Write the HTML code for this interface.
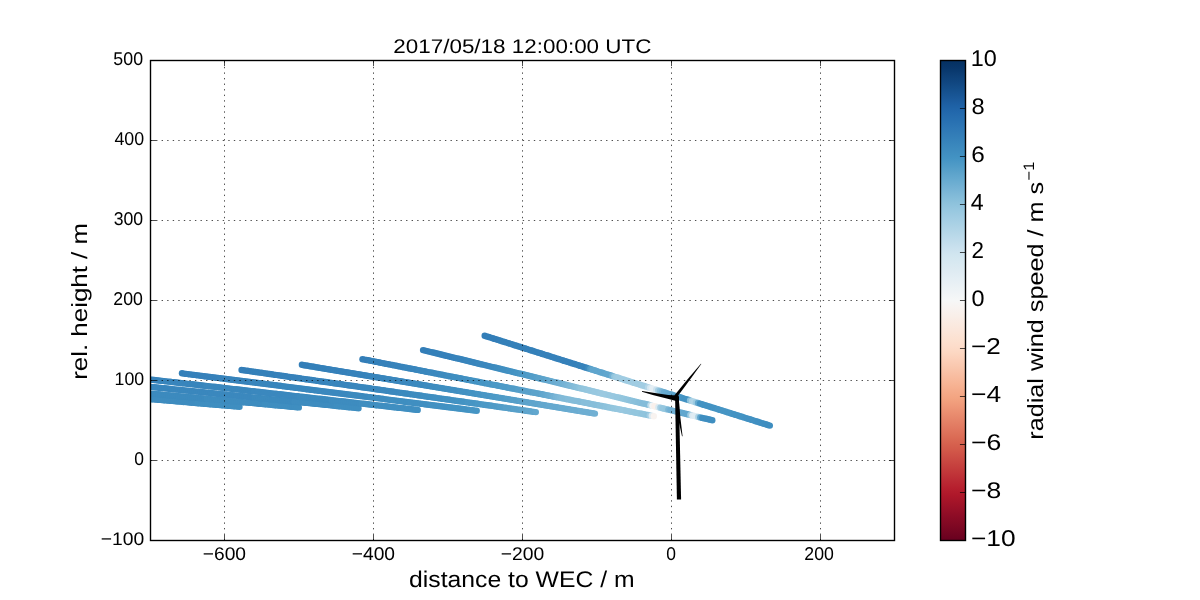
<!DOCTYPE html>
<html><head><meta charset="utf-8"><title>2017/05/18 12:00:00 UTC</title>
<style>html,body{margin:0;padding:0;background:#fff;width:1200px;height:600px;overflow:hidden}svg{display:block;will-change:transform}text{font-family:"Liberation Sans",sans-serif;fill:#000;text-rendering:geometricPrecision}</style></head><body>
<svg width="1200" height="600" viewBox="0 0 1200 600">
<defs><clipPath id="ax"><rect x="150.5" y="60.5" width="744" height="480"/></clipPath>
<linearGradient id="cbg" x1="0" y1="1" x2="0" y2="0"><stop offset="0.0000" stop-color="#67001f"/><stop offset="0.0156" stop-color="#730421"/><stop offset="0.0312" stop-color="#7f0823"/><stop offset="0.0469" stop-color="#8a0b25"/><stop offset="0.0625" stop-color="#960f27"/><stop offset="0.0781" stop-color="#a21328"/><stop offset="0.0938" stop-color="#ae172a"/><stop offset="0.1094" stop-color="#b61f2e"/><stop offset="0.1250" stop-color="#bb2a34"/><stop offset="0.1406" stop-color="#c13639"/><stop offset="0.1562" stop-color="#c6413e"/><stop offset="0.1719" stop-color="#cc4c44"/><stop offset="0.1875" stop-color="#d25849"/><stop offset="0.2031" stop-color="#d7634f"/><stop offset="0.2188" stop-color="#dc6e57"/><stop offset="0.2344" stop-color="#e17860"/><stop offset="0.2500" stop-color="#e58368"/><stop offset="0.2656" stop-color="#ea8e70"/><stop offset="0.2812" stop-color="#ef9979"/><stop offset="0.2969" stop-color="#f3a481"/><stop offset="0.3125" stop-color="#f5ac8b"/><stop offset="0.3281" stop-color="#f7b596"/><stop offset="0.3438" stop-color="#f8bda1"/><stop offset="0.3594" stop-color="#f9c6ac"/><stop offset="0.3750" stop-color="#fbceb7"/><stop offset="0.3906" stop-color="#fcd7c2"/><stop offset="0.4062" stop-color="#fdddcb"/><stop offset="0.4219" stop-color="#fce2d2"/><stop offset="0.4375" stop-color="#fbe6da"/><stop offset="0.4531" stop-color="#faeae1"/><stop offset="0.4688" stop-color="#f9efe9"/><stop offset="0.4844" stop-color="#f8f3f0"/><stop offset="0.5000" stop-color="#f6f7f7"/><stop offset="0.5156" stop-color="#f0f4f6"/><stop offset="0.5312" stop-color="#eaf1f5"/><stop offset="0.5469" stop-color="#e4eef4"/><stop offset="0.5625" stop-color="#deebf2"/><stop offset="0.5781" stop-color="#d8e9f1"/><stop offset="0.5938" stop-color="#d2e6f0"/><stop offset="0.6094" stop-color="#cae1ee"/><stop offset="0.6250" stop-color="#c0dceb"/><stop offset="0.6406" stop-color="#b6d7e8"/><stop offset="0.6562" stop-color="#acd2e5"/><stop offset="0.6719" stop-color="#a2cde3"/><stop offset="0.6875" stop-color="#98c8e0"/><stop offset="0.7031" stop-color="#8dc2dc"/><stop offset="0.7188" stop-color="#81bad8"/><stop offset="0.7344" stop-color="#75b2d4"/><stop offset="0.7500" stop-color="#68abd0"/><stop offset="0.7656" stop-color="#5ca3cb"/><stop offset="0.7812" stop-color="#4f9bc7"/><stop offset="0.7969" stop-color="#4393c3"/><stop offset="0.8125" stop-color="#3e8cbf"/><stop offset="0.8281" stop-color="#3885bc"/><stop offset="0.8438" stop-color="#337eb8"/><stop offset="0.8594" stop-color="#2e77b5"/><stop offset="0.8750" stop-color="#2870b1"/><stop offset="0.8906" stop-color="#2369ad"/><stop offset="0.9062" stop-color="#1e61a5"/><stop offset="0.9219" stop-color="#1a5899"/><stop offset="0.9375" stop-color="#15508d"/><stop offset="0.9531" stop-color="#114781"/><stop offset="0.9688" stop-color="#0d3f76"/><stop offset="0.9844" stop-color="#08366a"/><stop offset="1.0000" stop-color="#053061"/></linearGradient>
</defs>
<rect x="0" y="0" width="1200" height="600" fill="#fff"/>
<g clip-path="url(#ax)"><circle cx="141.7" cy="398.4" r="3.20" fill="#3e8cbf"/><circle cx="143.7" cy="398.5" r="3.20" fill="#3e8cbf"/><circle cx="145.7" cy="398.7" r="3.20" fill="#3e8cbf"/><circle cx="147.7" cy="398.9" r="3.20" fill="#3e8cbf"/><circle cx="149.7" cy="399.1" r="3.20" fill="#3e8cbf"/><circle cx="151.6" cy="399.2" r="3.20" fill="#3e8cbf"/><circle cx="153.6" cy="399.4" r="3.20" fill="#3e8cbf"/><circle cx="155.6" cy="399.6" r="3.20" fill="#3e8cbf"/><circle cx="157.6" cy="399.7" r="3.20" fill="#3e8cbf"/><circle cx="159.6" cy="399.9" r="3.20" fill="#3e8cbf"/><circle cx="161.6" cy="400.1" r="3.20" fill="#3e8cbf"/><circle cx="163.6" cy="400.3" r="3.20" fill="#3e8cbf"/><circle cx="165.6" cy="400.4" r="3.20" fill="#3e8cbf"/><circle cx="167.6" cy="400.6" r="3.20" fill="#3e8cbf"/><circle cx="169.6" cy="400.8" r="3.20" fill="#3e8cbf"/><circle cx="171.6" cy="400.9" r="3.20" fill="#3e8cbf"/><circle cx="173.6" cy="401.1" r="3.20" fill="#3e8cbf"/><circle cx="175.6" cy="401.3" r="3.20" fill="#3e8cbf"/><circle cx="177.6" cy="401.5" r="3.20" fill="#3e8cbf"/><circle cx="179.6" cy="401.6" r="3.20" fill="#3e8cbf"/><circle cx="181.6" cy="401.8" r="3.20" fill="#3e8cbf"/><circle cx="183.6" cy="402.0" r="3.20" fill="#3e8cbf"/><circle cx="185.6" cy="402.1" r="3.20" fill="#3e8cbf"/><circle cx="187.6" cy="402.3" r="3.20" fill="#3e8cbf"/><circle cx="189.6" cy="402.5" r="3.20" fill="#3e8cbf"/><circle cx="191.6" cy="402.7" r="3.20" fill="#3e8cbf"/><circle cx="193.6" cy="402.8" r="3.20" fill="#3e8cbf"/><circle cx="195.6" cy="403.0" r="3.20" fill="#3e8cbf"/><circle cx="197.6" cy="403.2" r="3.20" fill="#3f8ec0"/><circle cx="199.6" cy="403.4" r="3.20" fill="#3f8ec0"/><circle cx="201.6" cy="403.5" r="3.20" fill="#3f8ec0"/><circle cx="203.6" cy="403.7" r="3.20" fill="#3f8ec0"/><circle cx="205.6" cy="403.9" r="3.20" fill="#3f8ec0"/><circle cx="207.6" cy="404.0" r="3.20" fill="#3f8ec0"/><circle cx="209.6" cy="404.2" r="3.20" fill="#3f8ec0"/><circle cx="211.5" cy="404.4" r="3.20" fill="#3f8ec0"/><circle cx="213.5" cy="404.6" r="3.20" fill="#3f8ec0"/><circle cx="215.5" cy="404.7" r="3.20" fill="#3f8ec0"/><circle cx="217.5" cy="404.9" r="3.20" fill="#3f8ec0"/><circle cx="219.5" cy="405.1" r="3.20" fill="#3f8ec0"/><circle cx="221.5" cy="405.2" r="3.20" fill="#3f8ec0"/><circle cx="223.5" cy="405.4" r="3.20" fill="#3f8ec0"/><circle cx="225.5" cy="405.6" r="3.20" fill="#3f8ec0"/><circle cx="227.5" cy="405.8" r="3.20" fill="#3f8ec0"/><circle cx="229.5" cy="405.9" r="3.20" fill="#3f8ec0"/><circle cx="231.5" cy="406.1" r="3.20" fill="#3f8ec0"/><circle cx="233.5" cy="406.3" r="3.20" fill="#3f8ec0"/><circle cx="235.5" cy="406.4" r="3.20" fill="#3f8ec0"/><circle cx="237.5" cy="406.6" r="3.20" fill="#3f8ec0"/><circle cx="239.5" cy="406.8" r="3.20" fill="#3f8ec0"/><circle cx="140.9" cy="392.6" r="3.20" fill="#3b88be"/><circle cx="142.9" cy="392.8" r="3.20" fill="#3b88be"/><circle cx="144.9" cy="393.0" r="3.20" fill="#3c8abe"/><circle cx="146.9" cy="393.2" r="3.20" fill="#3c8abe"/><circle cx="148.9" cy="393.4" r="3.20" fill="#3c8abe"/><circle cx="150.9" cy="393.6" r="3.20" fill="#3c8abe"/><circle cx="152.9" cy="393.8" r="3.20" fill="#3c8abe"/><circle cx="154.9" cy="393.9" r="3.20" fill="#3c8abe"/><circle cx="156.9" cy="394.1" r="3.20" fill="#3c8abe"/><circle cx="158.9" cy="394.3" r="3.20" fill="#3c8abe"/><circle cx="160.9" cy="394.5" r="3.20" fill="#3c8abe"/><circle cx="162.9" cy="394.7" r="3.20" fill="#3c8abe"/><circle cx="164.9" cy="394.9" r="3.20" fill="#3c8abe"/><circle cx="166.9" cy="395.1" r="3.20" fill="#3c8abe"/><circle cx="168.9" cy="395.3" r="3.20" fill="#3c8abe"/><circle cx="170.9" cy="395.4" r="3.20" fill="#3c8abe"/><circle cx="172.9" cy="395.6" r="3.20" fill="#3c8abe"/><circle cx="174.9" cy="395.8" r="3.20" fill="#3c8abe"/><circle cx="176.9" cy="396.0" r="3.20" fill="#3c8abe"/><circle cx="178.9" cy="396.2" r="3.20" fill="#3c8abe"/><circle cx="180.9" cy="396.4" r="3.20" fill="#3c8abe"/><circle cx="182.9" cy="396.6" r="3.20" fill="#3c8abe"/><circle cx="184.9" cy="396.8" r="3.20" fill="#3c8abe"/><circle cx="186.9" cy="396.9" r="3.20" fill="#3c8abe"/><circle cx="188.9" cy="397.1" r="3.20" fill="#3c8abe"/><circle cx="190.9" cy="397.3" r="3.20" fill="#3c8abe"/><circle cx="192.9" cy="397.5" r="3.20" fill="#3c8abe"/><circle cx="194.9" cy="397.7" r="3.20" fill="#3c8abe"/><circle cx="196.9" cy="397.9" r="3.20" fill="#3c8abe"/><circle cx="198.9" cy="398.1" r="3.20" fill="#3c8abe"/><circle cx="200.9" cy="398.3" r="3.20" fill="#3c8abe"/><circle cx="202.9" cy="398.4" r="3.20" fill="#3c8abe"/><circle cx="204.9" cy="398.6" r="3.20" fill="#3c8abe"/><circle cx="206.9" cy="398.8" r="3.20" fill="#3e8cbf"/><circle cx="208.9" cy="399.0" r="3.20" fill="#3e8cbf"/><circle cx="210.9" cy="399.2" r="3.20" fill="#3e8cbf"/><circle cx="212.9" cy="399.4" r="3.20" fill="#3e8cbf"/><circle cx="214.9" cy="399.6" r="3.20" fill="#3e8cbf"/><circle cx="216.9" cy="399.7" r="3.20" fill="#3e8cbf"/><circle cx="218.9" cy="399.9" r="3.20" fill="#3e8cbf"/><circle cx="220.9" cy="400.1" r="3.20" fill="#3e8cbf"/><circle cx="222.9" cy="400.3" r="3.20" fill="#3e8cbf"/><circle cx="224.9" cy="400.5" r="3.20" fill="#3e8cbf"/><circle cx="226.8" cy="400.7" r="3.20" fill="#3e8cbf"/><circle cx="228.8" cy="400.9" r="3.20" fill="#3e8cbf"/><circle cx="230.8" cy="401.1" r="3.20" fill="#3e8cbf"/><circle cx="232.8" cy="401.2" r="3.20" fill="#3e8cbf"/><circle cx="234.8" cy="401.4" r="3.20" fill="#3e8cbf"/><circle cx="236.8" cy="401.6" r="3.20" fill="#3e8cbf"/><circle cx="238.8" cy="401.8" r="3.20" fill="#3e8cbf"/><circle cx="240.8" cy="402.0" r="3.20" fill="#3e8cbf"/><circle cx="242.8" cy="402.2" r="3.20" fill="#3e8cbf"/><circle cx="244.8" cy="402.4" r="3.20" fill="#3e8cbf"/><circle cx="246.8" cy="402.6" r="3.20" fill="#3e8cbf"/><circle cx="248.8" cy="402.7" r="3.20" fill="#3e8cbf"/><circle cx="250.8" cy="402.9" r="3.20" fill="#3e8cbf"/><circle cx="252.8" cy="403.1" r="3.20" fill="#3e8cbf"/><circle cx="254.8" cy="403.3" r="3.20" fill="#3e8cbf"/><circle cx="256.8" cy="403.5" r="3.20" fill="#3e8cbf"/><circle cx="258.8" cy="403.7" r="3.20" fill="#3e8cbf"/><circle cx="260.8" cy="403.9" r="3.20" fill="#3e8cbf"/><circle cx="262.8" cy="404.1" r="3.20" fill="#3e8cbf"/><circle cx="264.8" cy="404.2" r="3.20" fill="#3f8ec0"/><circle cx="266.8" cy="404.4" r="3.20" fill="#3f8ec0"/><circle cx="268.8" cy="404.6" r="3.20" fill="#3f8ec0"/><circle cx="270.8" cy="404.8" r="3.20" fill="#3f8ec0"/><circle cx="272.8" cy="405.0" r="3.20" fill="#3f8ec0"/><circle cx="274.8" cy="405.2" r="3.20" fill="#3f8ec0"/><circle cx="276.8" cy="405.4" r="3.20" fill="#3f8ec0"/><circle cx="278.8" cy="405.6" r="3.20" fill="#3f8ec0"/><circle cx="280.8" cy="405.7" r="3.20" fill="#3f8ec0"/><circle cx="282.8" cy="405.9" r="3.20" fill="#3f8ec0"/><circle cx="284.8" cy="406.1" r="3.20" fill="#3f8ec0"/><circle cx="286.8" cy="406.3" r="3.20" fill="#3f8ec0"/><circle cx="288.8" cy="406.5" r="3.20" fill="#3f8ec0"/><circle cx="290.8" cy="406.7" r="3.20" fill="#3f8ec0"/><circle cx="292.8" cy="406.9" r="3.20" fill="#3f8ec0"/><circle cx="294.8" cy="407.0" r="3.20" fill="#3f8ec0"/><circle cx="296.8" cy="407.2" r="3.20" fill="#3f8ec0"/><circle cx="298.8" cy="407.4" r="3.20" fill="#3f8ec0"/><circle cx="140.9" cy="385.9" r="3.20" fill="#3885bc"/><circle cx="142.9" cy="386.1" r="3.20" fill="#3885bc"/><circle cx="144.9" cy="386.3" r="3.20" fill="#3885bc"/><circle cx="146.9" cy="386.5" r="3.20" fill="#3885bc"/><circle cx="148.9" cy="386.7" r="3.20" fill="#3885bc"/><circle cx="150.9" cy="386.9" r="3.20" fill="#3885bc"/><circle cx="152.8" cy="387.1" r="3.20" fill="#3885bc"/><circle cx="154.8" cy="387.3" r="3.20" fill="#3885bc"/><circle cx="156.8" cy="387.5" r="3.20" fill="#3885bc"/><circle cx="158.8" cy="387.7" r="3.20" fill="#3885bc"/><circle cx="160.8" cy="387.9" r="3.20" fill="#3885bc"/><circle cx="162.8" cy="388.1" r="3.20" fill="#3885bc"/><circle cx="164.8" cy="388.3" r="3.20" fill="#3885bc"/><circle cx="166.8" cy="388.5" r="3.20" fill="#3885bc"/><circle cx="168.8" cy="388.7" r="3.20" fill="#3885bc"/><circle cx="170.8" cy="388.9" r="3.20" fill="#3885bc"/><circle cx="172.8" cy="389.2" r="3.20" fill="#3a87bd"/><circle cx="174.8" cy="389.4" r="3.20" fill="#3a87bd"/><circle cx="176.8" cy="389.6" r="3.20" fill="#3a87bd"/><circle cx="178.8" cy="389.8" r="3.20" fill="#3a87bd"/><circle cx="180.8" cy="390.0" r="3.20" fill="#3a87bd"/><circle cx="182.8" cy="390.2" r="3.20" fill="#3a87bd"/><circle cx="184.8" cy="390.4" r="3.20" fill="#3a87bd"/><circle cx="186.8" cy="390.6" r="3.20" fill="#3a87bd"/><circle cx="188.8" cy="390.8" r="3.20" fill="#3a87bd"/><circle cx="190.8" cy="391.0" r="3.20" fill="#3a87bd"/><circle cx="192.8" cy="391.2" r="3.20" fill="#3a87bd"/><circle cx="194.8" cy="391.4" r="3.20" fill="#3a87bd"/><circle cx="196.8" cy="391.6" r="3.20" fill="#3a87bd"/><circle cx="198.8" cy="391.8" r="3.20" fill="#3a87bd"/><circle cx="200.8" cy="392.0" r="3.20" fill="#3a87bd"/><circle cx="202.8" cy="392.2" r="3.20" fill="#3a87bd"/><circle cx="204.8" cy="392.4" r="3.20" fill="#3a87bd"/><circle cx="206.8" cy="392.6" r="3.20" fill="#3a87bd"/><circle cx="208.8" cy="392.8" r="3.20" fill="#3a87bd"/><circle cx="210.8" cy="393.0" r="3.20" fill="#3a87bd"/><circle cx="212.7" cy="393.3" r="3.20" fill="#3b88be"/><circle cx="214.7" cy="393.5" r="3.20" fill="#3b88be"/><circle cx="216.7" cy="393.7" r="3.20" fill="#3b88be"/><circle cx="218.7" cy="393.9" r="3.20" fill="#3b88be"/><circle cx="220.7" cy="394.1" r="3.20" fill="#3b88be"/><circle cx="222.7" cy="394.3" r="3.20" fill="#3b88be"/><circle cx="224.7" cy="394.5" r="3.20" fill="#3b88be"/><circle cx="226.7" cy="394.7" r="3.20" fill="#3b88be"/><circle cx="228.7" cy="394.9" r="3.20" fill="#3b88be"/><circle cx="230.7" cy="395.1" r="3.20" fill="#3b88be"/><circle cx="232.7" cy="395.3" r="3.20" fill="#3b88be"/><circle cx="234.7" cy="395.5" r="3.20" fill="#3b88be"/><circle cx="236.7" cy="395.7" r="3.20" fill="#3b88be"/><circle cx="238.7" cy="395.9" r="3.20" fill="#3b88be"/><circle cx="240.7" cy="396.1" r="3.20" fill="#3b88be"/><circle cx="242.7" cy="396.3" r="3.20" fill="#3b88be"/><circle cx="244.7" cy="396.5" r="3.20" fill="#3b88be"/><circle cx="246.7" cy="396.7" r="3.20" fill="#3b88be"/><circle cx="248.7" cy="396.9" r="3.20" fill="#3b88be"/><circle cx="250.7" cy="397.1" r="3.20" fill="#3b88be"/><circle cx="252.7" cy="397.4" r="3.20" fill="#3b88be"/><circle cx="254.7" cy="397.6" r="3.20" fill="#3c8abe"/><circle cx="256.7" cy="397.8" r="3.20" fill="#3c8abe"/><circle cx="258.7" cy="398.0" r="3.20" fill="#3c8abe"/><circle cx="260.7" cy="398.2" r="3.20" fill="#3c8abe"/><circle cx="262.7" cy="398.4" r="3.20" fill="#3c8abe"/><circle cx="264.7" cy="398.6" r="3.20" fill="#3c8abe"/><circle cx="266.7" cy="398.8" r="3.20" fill="#3c8abe"/><circle cx="268.7" cy="399.0" r="3.20" fill="#3c8abe"/><circle cx="270.6" cy="399.2" r="3.20" fill="#3c8abe"/><circle cx="272.6" cy="399.4" r="3.20" fill="#3c8abe"/><circle cx="274.6" cy="399.6" r="3.20" fill="#3c8abe"/><circle cx="276.6" cy="399.8" r="3.20" fill="#3c8abe"/><circle cx="278.6" cy="400.0" r="3.20" fill="#3c8abe"/><circle cx="280.6" cy="400.2" r="3.20" fill="#3c8abe"/><circle cx="282.6" cy="400.4" r="3.20" fill="#3c8abe"/><circle cx="284.6" cy="400.6" r="3.20" fill="#3c8abe"/><circle cx="286.6" cy="400.8" r="3.20" fill="#3c8abe"/><circle cx="288.6" cy="401.0" r="3.20" fill="#3c8abe"/><circle cx="290.6" cy="401.2" r="3.20" fill="#3c8abe"/><circle cx="292.6" cy="401.5" r="3.20" fill="#3c8abe"/><circle cx="294.6" cy="401.7" r="3.20" fill="#3e8cbf"/><circle cx="296.6" cy="401.9" r="3.20" fill="#3e8cbf"/><circle cx="298.6" cy="402.1" r="3.20" fill="#3e8cbf"/><circle cx="300.6" cy="402.3" r="3.20" fill="#3e8cbf"/><circle cx="302.6" cy="402.5" r="3.20" fill="#3e8cbf"/><circle cx="304.6" cy="402.7" r="3.20" fill="#3e8cbf"/><circle cx="306.6" cy="402.9" r="3.20" fill="#3e8cbf"/><circle cx="308.6" cy="403.1" r="3.20" fill="#3e8cbf"/><circle cx="310.6" cy="403.3" r="3.20" fill="#3e8cbf"/><circle cx="312.6" cy="403.5" r="3.20" fill="#3e8cbf"/><circle cx="314.6" cy="403.7" r="3.20" fill="#3e8cbf"/><circle cx="316.6" cy="403.9" r="3.20" fill="#3e8cbf"/><circle cx="318.6" cy="404.1" r="3.20" fill="#3e8cbf"/><circle cx="320.6" cy="404.3" r="3.20" fill="#3e8cbf"/><circle cx="322.6" cy="404.5" r="3.20" fill="#3e8cbf"/><circle cx="324.6" cy="404.7" r="3.20" fill="#3e8cbf"/><circle cx="326.6" cy="404.9" r="3.20" fill="#3e8cbf"/><circle cx="328.6" cy="405.1" r="3.20" fill="#3e8cbf"/><circle cx="330.5" cy="405.3" r="3.20" fill="#3e8cbf"/><circle cx="332.5" cy="405.6" r="3.20" fill="#3e8cbf"/><circle cx="334.5" cy="405.8" r="3.20" fill="#3e8cbf"/><circle cx="336.5" cy="406.0" r="3.20" fill="#3f8ec0"/><circle cx="338.5" cy="406.2" r="3.20" fill="#3f8ec0"/><circle cx="340.5" cy="406.4" r="3.20" fill="#3f8ec0"/><circle cx="342.5" cy="406.6" r="3.20" fill="#3f8ec0"/><circle cx="344.5" cy="406.8" r="3.20" fill="#3f8ec0"/><circle cx="346.5" cy="407.0" r="3.20" fill="#3f8ec0"/><circle cx="348.5" cy="407.2" r="3.20" fill="#3f8ec0"/><circle cx="350.5" cy="407.4" r="3.20" fill="#3f8ec0"/><circle cx="352.5" cy="407.6" r="3.20" fill="#3f8ec0"/><circle cx="354.5" cy="407.8" r="3.20" fill="#3f8ec0"/><circle cx="356.5" cy="408.0" r="3.20" fill="#3f8ec0"/><circle cx="358.5" cy="408.2" r="3.20" fill="#3f8ec0"/><circle cx="140.5" cy="378.4" r="3.20" fill="#3783bb"/><circle cx="142.4" cy="378.7" r="3.20" fill="#3783bb"/><circle cx="144.4" cy="378.9" r="3.20" fill="#3783bb"/><circle cx="146.4" cy="379.1" r="3.20" fill="#3783bb"/><circle cx="148.4" cy="379.3" r="3.20" fill="#3783bb"/><circle cx="150.4" cy="379.6" r="3.20" fill="#3783bb"/><circle cx="152.4" cy="379.8" r="3.20" fill="#3783bb"/><circle cx="154.4" cy="380.0" r="3.20" fill="#3783bb"/><circle cx="156.4" cy="380.2" r="3.20" fill="#3783bb"/><circle cx="158.4" cy="380.5" r="3.20" fill="#3783bb"/><circle cx="160.4" cy="380.7" r="3.20" fill="#3885bc"/><circle cx="162.4" cy="380.9" r="3.20" fill="#3885bc"/><circle cx="164.4" cy="381.1" r="3.20" fill="#3885bc"/><circle cx="166.4" cy="381.4" r="3.20" fill="#3885bc"/><circle cx="168.4" cy="381.6" r="3.20" fill="#3885bc"/><circle cx="170.4" cy="381.8" r="3.20" fill="#3885bc"/><circle cx="172.4" cy="382.1" r="3.20" fill="#3885bc"/><circle cx="174.4" cy="382.3" r="3.20" fill="#3885bc"/><circle cx="176.4" cy="382.5" r="3.20" fill="#3885bc"/><circle cx="178.3" cy="382.7" r="3.20" fill="#3885bc"/><circle cx="180.3" cy="383.0" r="3.20" fill="#3885bc"/><circle cx="182.3" cy="383.2" r="3.20" fill="#3885bc"/><circle cx="184.3" cy="383.4" r="3.20" fill="#3885bc"/><circle cx="186.3" cy="383.6" r="3.20" fill="#3885bc"/><circle cx="188.3" cy="383.9" r="3.20" fill="#3885bc"/><circle cx="190.3" cy="384.1" r="3.20" fill="#3885bc"/><circle cx="192.3" cy="384.3" r="3.20" fill="#3885bc"/><circle cx="194.3" cy="384.5" r="3.20" fill="#3885bc"/><circle cx="196.3" cy="384.8" r="3.20" fill="#3885bc"/><circle cx="198.3" cy="385.0" r="3.20" fill="#3885bc"/><circle cx="200.3" cy="385.2" r="3.20" fill="#3885bc"/><circle cx="202.3" cy="385.5" r="3.20" fill="#3885bc"/><circle cx="204.3" cy="385.7" r="3.20" fill="#3885bc"/><circle cx="206.3" cy="385.9" r="3.20" fill="#3a87bd"/><circle cx="208.3" cy="386.1" r="3.20" fill="#3a87bd"/><circle cx="210.3" cy="386.4" r="3.20" fill="#3a87bd"/><circle cx="212.3" cy="386.6" r="3.20" fill="#3a87bd"/><circle cx="214.3" cy="386.8" r="3.20" fill="#3a87bd"/><circle cx="216.2" cy="387.0" r="3.20" fill="#3a87bd"/><circle cx="218.2" cy="387.3" r="3.20" fill="#3a87bd"/><circle cx="220.2" cy="387.5" r="3.20" fill="#3a87bd"/><circle cx="222.2" cy="387.7" r="3.20" fill="#3a87bd"/><circle cx="224.2" cy="387.9" r="3.20" fill="#3a87bd"/><circle cx="226.2" cy="388.2" r="3.20" fill="#3a87bd"/><circle cx="228.2" cy="388.4" r="3.20" fill="#3a87bd"/><circle cx="230.2" cy="388.6" r="3.20" fill="#3a87bd"/><circle cx="232.2" cy="388.9" r="3.20" fill="#3a87bd"/><circle cx="234.2" cy="389.1" r="3.20" fill="#3a87bd"/><circle cx="236.2" cy="389.3" r="3.20" fill="#3a87bd"/><circle cx="238.2" cy="389.5" r="3.20" fill="#3a87bd"/><circle cx="240.2" cy="389.8" r="3.20" fill="#3a87bd"/><circle cx="242.2" cy="390.0" r="3.20" fill="#3a87bd"/><circle cx="244.2" cy="390.2" r="3.20" fill="#3a87bd"/><circle cx="246.2" cy="390.4" r="3.20" fill="#3a87bd"/><circle cx="248.2" cy="390.7" r="3.20" fill="#3a87bd"/><circle cx="250.2" cy="390.9" r="3.20" fill="#3a87bd"/><circle cx="252.1" cy="391.1" r="3.20" fill="#3a87bd"/><circle cx="254.1" cy="391.3" r="3.20" fill="#3b88be"/><circle cx="256.1" cy="391.6" r="3.20" fill="#3b88be"/><circle cx="258.1" cy="391.8" r="3.20" fill="#3b88be"/><circle cx="260.1" cy="392.0" r="3.20" fill="#3b88be"/><circle cx="262.1" cy="392.3" r="3.20" fill="#3b88be"/><circle cx="264.1" cy="392.5" r="3.20" fill="#3b88be"/><circle cx="266.1" cy="392.7" r="3.20" fill="#3b88be"/><circle cx="268.1" cy="392.9" r="3.20" fill="#3b88be"/><circle cx="270.1" cy="393.2" r="3.20" fill="#3b88be"/><circle cx="272.1" cy="393.4" r="3.20" fill="#3b88be"/><circle cx="274.1" cy="393.6" r="3.20" fill="#3b88be"/><circle cx="276.1" cy="393.8" r="3.20" fill="#3b88be"/><circle cx="278.1" cy="394.1" r="3.20" fill="#3b88be"/><circle cx="280.1" cy="394.3" r="3.20" fill="#3b88be"/><circle cx="282.1" cy="394.5" r="3.20" fill="#3b88be"/><circle cx="284.1" cy="394.7" r="3.20" fill="#3b88be"/><circle cx="286.1" cy="395.0" r="3.20" fill="#3b88be"/><circle cx="288.1" cy="395.2" r="3.20" fill="#3b88be"/><circle cx="290.0" cy="395.4" r="3.20" fill="#3b88be"/><circle cx="292.0" cy="395.7" r="3.20" fill="#3b88be"/><circle cx="294.0" cy="395.9" r="3.20" fill="#3b88be"/><circle cx="296.0" cy="396.1" r="3.20" fill="#3b88be"/><circle cx="298.0" cy="396.3" r="3.20" fill="#3b88be"/><circle cx="300.0" cy="396.6" r="3.20" fill="#3c8abe"/><circle cx="302.0" cy="396.8" r="3.20" fill="#3c8abe"/><circle cx="304.0" cy="397.0" r="3.20" fill="#3c8abe"/><circle cx="306.0" cy="397.2" r="3.20" fill="#3c8abe"/><circle cx="308.0" cy="397.5" r="3.20" fill="#3c8abe"/><circle cx="310.0" cy="397.7" r="3.20" fill="#3c8abe"/><circle cx="312.0" cy="397.9" r="3.20" fill="#3c8abe"/><circle cx="314.0" cy="398.1" r="3.20" fill="#3c8abe"/><circle cx="316.0" cy="398.4" r="3.20" fill="#3c8abe"/><circle cx="318.0" cy="398.6" r="3.20" fill="#3c8abe"/><circle cx="320.0" cy="398.8" r="3.20" fill="#3c8abe"/><circle cx="322.0" cy="399.0" r="3.20" fill="#3c8abe"/><circle cx="324.0" cy="399.3" r="3.20" fill="#3c8abe"/><circle cx="325.9" cy="399.5" r="3.20" fill="#3c8abe"/><circle cx="327.9" cy="399.7" r="3.20" fill="#3c8abe"/><circle cx="329.9" cy="400.0" r="3.20" fill="#3c8abe"/><circle cx="331.9" cy="400.2" r="3.20" fill="#3e8cbf"/><circle cx="333.9" cy="400.4" r="3.20" fill="#3e8cbf"/><circle cx="335.9" cy="400.6" r="3.20" fill="#3e8cbf"/><circle cx="337.9" cy="400.9" r="3.20" fill="#3e8cbf"/><circle cx="339.9" cy="401.1" r="3.20" fill="#3e8cbf"/><circle cx="341.9" cy="401.3" r="3.20" fill="#3e8cbf"/><circle cx="343.9" cy="401.5" r="3.20" fill="#3e8cbf"/><circle cx="345.9" cy="401.8" r="3.20" fill="#3e8cbf"/><circle cx="347.9" cy="402.0" r="3.20" fill="#3e8cbf"/><circle cx="349.9" cy="402.2" r="3.20" fill="#3e8cbf"/><circle cx="351.9" cy="402.4" r="3.20" fill="#3e8cbf"/><circle cx="353.9" cy="402.7" r="3.20" fill="#3e8cbf"/><circle cx="355.9" cy="402.9" r="3.20" fill="#3e8cbf"/><circle cx="357.9" cy="403.1" r="3.20" fill="#3e8cbf"/><circle cx="359.9" cy="403.4" r="3.20" fill="#3e8cbf"/><circle cx="361.9" cy="403.6" r="3.20" fill="#3f8ec0"/><circle cx="363.8" cy="403.8" r="3.20" fill="#3f8ec0"/><circle cx="365.8" cy="404.0" r="3.20" fill="#3f8ec0"/><circle cx="367.8" cy="404.3" r="3.20" fill="#3f8ec0"/><circle cx="369.8" cy="404.5" r="3.20" fill="#3f8ec0"/><circle cx="371.8" cy="404.7" r="3.20" fill="#3f8ec0"/><circle cx="373.8" cy="404.9" r="3.20" fill="#3f8ec0"/><circle cx="375.8" cy="405.2" r="3.20" fill="#3f8ec0"/><circle cx="377.8" cy="405.4" r="3.20" fill="#3f8ec0"/><circle cx="379.8" cy="405.6" r="3.20" fill="#3f8ec0"/><circle cx="381.8" cy="405.8" r="3.20" fill="#3f8ec0"/><circle cx="383.8" cy="406.1" r="3.20" fill="#3f8ec0"/><circle cx="385.8" cy="406.3" r="3.20" fill="#3f8ec0"/><circle cx="387.8" cy="406.5" r="3.20" fill="#3f8ec0"/><circle cx="389.8" cy="406.8" r="3.20" fill="#3f8ec0"/><circle cx="391.8" cy="407.0" r="3.20" fill="#408fc1"/><circle cx="393.8" cy="407.2" r="3.20" fill="#408fc1"/><circle cx="395.8" cy="407.4" r="3.20" fill="#408fc1"/><circle cx="397.8" cy="407.7" r="3.20" fill="#408fc1"/><circle cx="399.7" cy="407.9" r="3.20" fill="#408fc1"/><circle cx="401.7" cy="408.1" r="3.20" fill="#408fc1"/><circle cx="403.7" cy="408.3" r="3.20" fill="#408fc1"/><circle cx="405.7" cy="408.6" r="3.20" fill="#408fc1"/><circle cx="407.7" cy="408.8" r="3.20" fill="#408fc1"/><circle cx="409.7" cy="409.0" r="3.20" fill="#408fc1"/><circle cx="411.7" cy="409.2" r="3.20" fill="#408fc1"/><circle cx="413.7" cy="409.5" r="3.20" fill="#408fc1"/><circle cx="415.7" cy="409.7" r="3.20" fill="#408fc1"/><circle cx="417.7" cy="409.9" r="3.20" fill="#408fc1"/><circle cx="182.0" cy="373.3" r="3.20" fill="#3480b9"/><circle cx="184.0" cy="373.6" r="3.20" fill="#3480b9"/><circle cx="186.0" cy="373.9" r="3.20" fill="#3681ba"/><circle cx="188.0" cy="374.1" r="3.20" fill="#3681ba"/><circle cx="190.0" cy="374.4" r="3.20" fill="#3681ba"/><circle cx="192.0" cy="374.6" r="3.20" fill="#3681ba"/><circle cx="194.0" cy="374.9" r="3.20" fill="#3681ba"/><circle cx="196.0" cy="375.1" r="3.20" fill="#3681ba"/><circle cx="198.0" cy="375.4" r="3.20" fill="#3681ba"/><circle cx="200.0" cy="375.6" r="3.20" fill="#3681ba"/><circle cx="202.0" cy="375.9" r="3.20" fill="#3681ba"/><circle cx="204.1" cy="376.2" r="3.20" fill="#3681ba"/><circle cx="206.1" cy="376.4" r="3.20" fill="#3681ba"/><circle cx="208.1" cy="376.7" r="3.20" fill="#3681ba"/><circle cx="210.1" cy="376.9" r="3.20" fill="#3681ba"/><circle cx="212.1" cy="377.2" r="3.20" fill="#3681ba"/><circle cx="214.1" cy="377.4" r="3.20" fill="#3681ba"/><circle cx="216.1" cy="377.7" r="3.20" fill="#3681ba"/><circle cx="218.1" cy="377.9" r="3.20" fill="#3681ba"/><circle cx="220.1" cy="378.2" r="3.20" fill="#3783bb"/><circle cx="222.1" cy="378.4" r="3.20" fill="#3783bb"/><circle cx="224.1" cy="378.7" r="3.20" fill="#3783bb"/><circle cx="226.1" cy="379.0" r="3.20" fill="#3783bb"/><circle cx="228.1" cy="379.2" r="3.20" fill="#3783bb"/><circle cx="230.1" cy="379.5" r="3.20" fill="#3783bb"/><circle cx="232.1" cy="379.7" r="3.20" fill="#3783bb"/><circle cx="234.1" cy="380.0" r="3.20" fill="#3783bb"/><circle cx="236.1" cy="380.2" r="3.20" fill="#3783bb"/><circle cx="238.1" cy="380.5" r="3.20" fill="#3783bb"/><circle cx="240.1" cy="380.7" r="3.20" fill="#3783bb"/><circle cx="242.1" cy="381.0" r="3.20" fill="#3783bb"/><circle cx="244.1" cy="381.3" r="3.20" fill="#3783bb"/><circle cx="246.2" cy="381.5" r="3.20" fill="#3783bb"/><circle cx="248.2" cy="381.8" r="3.20" fill="#3783bb"/><circle cx="250.2" cy="382.0" r="3.20" fill="#3783bb"/><circle cx="252.2" cy="382.3" r="3.20" fill="#3885bc"/><circle cx="254.2" cy="382.5" r="3.20" fill="#3885bc"/><circle cx="256.2" cy="382.8" r="3.20" fill="#3885bc"/><circle cx="258.2" cy="383.0" r="3.20" fill="#3885bc"/><circle cx="260.2" cy="383.3" r="3.20" fill="#3885bc"/><circle cx="262.2" cy="383.5" r="3.20" fill="#3885bc"/><circle cx="264.2" cy="383.8" r="3.20" fill="#3885bc"/><circle cx="266.2" cy="384.1" r="3.20" fill="#3885bc"/><circle cx="268.2" cy="384.3" r="3.20" fill="#3885bc"/><circle cx="270.2" cy="384.6" r="3.20" fill="#3885bc"/><circle cx="272.2" cy="384.8" r="3.20" fill="#3885bc"/><circle cx="274.2" cy="385.1" r="3.20" fill="#3885bc"/><circle cx="276.2" cy="385.3" r="3.20" fill="#3885bc"/><circle cx="278.2" cy="385.6" r="3.20" fill="#3885bc"/><circle cx="280.2" cy="385.8" r="3.20" fill="#3885bc"/><circle cx="282.2" cy="386.1" r="3.20" fill="#3885bc"/><circle cx="284.2" cy="386.4" r="3.20" fill="#3a87bd"/><circle cx="286.2" cy="386.6" r="3.20" fill="#3a87bd"/><circle cx="288.3" cy="386.9" r="3.20" fill="#3a87bd"/><circle cx="290.3" cy="387.1" r="3.20" fill="#3a87bd"/><circle cx="292.3" cy="387.4" r="3.20" fill="#3a87bd"/><circle cx="294.3" cy="387.6" r="3.20" fill="#3a87bd"/><circle cx="296.3" cy="387.9" r="3.20" fill="#3a87bd"/><circle cx="298.3" cy="388.1" r="3.20" fill="#3a87bd"/><circle cx="300.3" cy="388.4" r="3.20" fill="#3a87bd"/><circle cx="302.3" cy="388.6" r="3.20" fill="#3a87bd"/><circle cx="304.3" cy="388.9" r="3.20" fill="#3a87bd"/><circle cx="306.3" cy="389.2" r="3.20" fill="#3a87bd"/><circle cx="308.3" cy="389.4" r="3.20" fill="#3a87bd"/><circle cx="310.3" cy="389.7" r="3.20" fill="#3a87bd"/><circle cx="312.3" cy="389.9" r="3.20" fill="#3a87bd"/><circle cx="314.3" cy="390.2" r="3.20" fill="#3a87bd"/><circle cx="316.3" cy="390.4" r="3.20" fill="#3a87bd"/><circle cx="318.3" cy="390.7" r="3.20" fill="#3b88be"/><circle cx="320.3" cy="390.9" r="3.20" fill="#3b88be"/><circle cx="322.3" cy="391.2" r="3.20" fill="#3b88be"/><circle cx="324.3" cy="391.5" r="3.20" fill="#3b88be"/><circle cx="326.3" cy="391.7" r="3.20" fill="#3b88be"/><circle cx="328.3" cy="392.0" r="3.20" fill="#3b88be"/><circle cx="330.4" cy="392.2" r="3.20" fill="#3b88be"/><circle cx="332.4" cy="392.5" r="3.20" fill="#3b88be"/><circle cx="334.4" cy="392.7" r="3.20" fill="#3b88be"/><circle cx="336.4" cy="393.0" r="3.20" fill="#3b88be"/><circle cx="338.4" cy="393.2" r="3.20" fill="#3b88be"/><circle cx="340.4" cy="393.5" r="3.20" fill="#3b88be"/><circle cx="342.4" cy="393.7" r="3.20" fill="#3b88be"/><circle cx="344.4" cy="394.0" r="3.20" fill="#3b88be"/><circle cx="346.4" cy="394.3" r="3.20" fill="#3b88be"/><circle cx="348.4" cy="394.5" r="3.20" fill="#3b88be"/><circle cx="350.4" cy="394.8" r="3.20" fill="#3c8abe"/><circle cx="352.4" cy="395.0" r="3.20" fill="#3c8abe"/><circle cx="354.4" cy="395.3" r="3.20" fill="#3c8abe"/><circle cx="356.4" cy="395.5" r="3.20" fill="#3c8abe"/><circle cx="358.4" cy="395.8" r="3.20" fill="#3c8abe"/><circle cx="360.4" cy="396.0" r="3.20" fill="#3c8abe"/><circle cx="362.4" cy="396.3" r="3.20" fill="#3c8abe"/><circle cx="364.4" cy="396.6" r="3.20" fill="#3c8abe"/><circle cx="366.4" cy="396.8" r="3.20" fill="#3c8abe"/><circle cx="368.4" cy="397.1" r="3.20" fill="#3c8abe"/><circle cx="370.4" cy="397.3" r="3.20" fill="#3e8cbf"/><circle cx="372.5" cy="397.6" r="3.20" fill="#3e8cbf"/><circle cx="374.5" cy="397.8" r="3.20" fill="#3e8cbf"/><circle cx="376.5" cy="398.1" r="3.20" fill="#3e8cbf"/><circle cx="378.5" cy="398.3" r="3.20" fill="#3e8cbf"/><circle cx="380.5" cy="398.6" r="3.20" fill="#3e8cbf"/><circle cx="382.5" cy="398.8" r="3.20" fill="#3e8cbf"/><circle cx="384.5" cy="399.1" r="3.20" fill="#3e8cbf"/><circle cx="386.5" cy="399.4" r="3.20" fill="#3e8cbf"/><circle cx="388.5" cy="399.6" r="3.20" fill="#3e8cbf"/><circle cx="390.5" cy="399.9" r="3.20" fill="#3f8ec0"/><circle cx="392.5" cy="400.1" r="3.20" fill="#3f8ec0"/><circle cx="394.5" cy="400.4" r="3.20" fill="#3f8ec0"/><circle cx="396.5" cy="400.6" r="3.20" fill="#3f8ec0"/><circle cx="398.5" cy="400.9" r="3.20" fill="#3f8ec0"/><circle cx="400.5" cy="401.1" r="3.20" fill="#3f8ec0"/><circle cx="402.5" cy="401.4" r="3.20" fill="#3f8ec0"/><circle cx="404.5" cy="401.7" r="3.20" fill="#3f8ec0"/><circle cx="406.5" cy="401.9" r="3.20" fill="#3f8ec0"/><circle cx="408.5" cy="402.2" r="3.20" fill="#3f8ec0"/><circle cx="410.5" cy="402.4" r="3.20" fill="#408fc1"/><circle cx="412.5" cy="402.7" r="3.20" fill="#408fc1"/><circle cx="414.6" cy="402.9" r="3.20" fill="#408fc1"/><circle cx="416.6" cy="403.2" r="3.20" fill="#408fc1"/><circle cx="418.6" cy="403.4" r="3.20" fill="#408fc1"/><circle cx="420.6" cy="403.7" r="3.20" fill="#408fc1"/><circle cx="422.6" cy="403.9" r="3.20" fill="#408fc1"/><circle cx="424.6" cy="404.2" r="3.20" fill="#408fc1"/><circle cx="426.6" cy="404.5" r="3.20" fill="#408fc1"/><circle cx="428.6" cy="404.7" r="3.20" fill="#408fc1"/><circle cx="430.6" cy="405.0" r="3.20" fill="#4291c2"/><circle cx="432.6" cy="405.2" r="3.20" fill="#4291c2"/><circle cx="434.6" cy="405.5" r="3.20" fill="#4291c2"/><circle cx="436.6" cy="405.7" r="3.20" fill="#4291c2"/><circle cx="438.6" cy="406.0" r="3.20" fill="#4291c2"/><circle cx="440.6" cy="406.2" r="3.20" fill="#4291c2"/><circle cx="442.6" cy="406.5" r="3.20" fill="#4291c2"/><circle cx="444.6" cy="406.8" r="3.20" fill="#4291c2"/><circle cx="446.6" cy="407.0" r="3.20" fill="#4291c2"/><circle cx="448.6" cy="407.3" r="3.20" fill="#4291c2"/><circle cx="450.6" cy="407.5" r="3.20" fill="#4393c3"/><circle cx="452.6" cy="407.8" r="3.20" fill="#4393c3"/><circle cx="454.6" cy="408.0" r="3.20" fill="#4393c3"/><circle cx="456.7" cy="408.3" r="3.20" fill="#4393c3"/><circle cx="458.7" cy="408.5" r="3.20" fill="#4393c3"/><circle cx="460.7" cy="408.8" r="3.20" fill="#4393c3"/><circle cx="462.7" cy="409.0" r="3.20" fill="#4393c3"/><circle cx="464.7" cy="409.3" r="3.20" fill="#4393c3"/><circle cx="466.7" cy="409.6" r="3.20" fill="#4393c3"/><circle cx="468.7" cy="409.8" r="3.20" fill="#4393c3"/><circle cx="470.7" cy="410.1" r="3.20" fill="#4695c4"/><circle cx="472.7" cy="410.3" r="3.20" fill="#4695c4"/><circle cx="474.7" cy="410.6" r="3.20" fill="#4695c4"/><circle cx="476.7" cy="410.8" r="3.20" fill="#4695c4"/><circle cx="241.6" cy="370.0" r="3.20" fill="#337eb8"/><circle cx="243.6" cy="370.3" r="3.20" fill="#337eb8"/><circle cx="245.6" cy="370.6" r="3.20" fill="#337eb8"/><circle cx="247.6" cy="370.8" r="3.20" fill="#337eb8"/><circle cx="249.6" cy="371.1" r="3.20" fill="#337eb8"/><circle cx="251.6" cy="371.4" r="3.20" fill="#337eb8"/><circle cx="253.6" cy="371.7" r="3.20" fill="#3480b9"/><circle cx="255.6" cy="372.0" r="3.20" fill="#3480b9"/><circle cx="257.6" cy="372.3" r="3.20" fill="#3480b9"/><circle cx="259.6" cy="372.6" r="3.20" fill="#3480b9"/><circle cx="261.6" cy="372.8" r="3.20" fill="#3480b9"/><circle cx="263.6" cy="373.1" r="3.20" fill="#3480b9"/><circle cx="265.6" cy="373.4" r="3.20" fill="#3480b9"/><circle cx="267.6" cy="373.7" r="3.20" fill="#3480b9"/><circle cx="269.6" cy="374.0" r="3.20" fill="#3480b9"/><circle cx="271.6" cy="374.3" r="3.20" fill="#3480b9"/><circle cx="273.6" cy="374.6" r="3.20" fill="#3480b9"/><circle cx="275.6" cy="374.9" r="3.20" fill="#3480b9"/><circle cx="277.6" cy="375.1" r="3.20" fill="#3681ba"/><circle cx="279.6" cy="375.4" r="3.20" fill="#3681ba"/><circle cx="281.6" cy="375.7" r="3.20" fill="#3681ba"/><circle cx="283.6" cy="376.0" r="3.20" fill="#3681ba"/><circle cx="285.6" cy="376.3" r="3.20" fill="#3681ba"/><circle cx="287.6" cy="376.6" r="3.20" fill="#3681ba"/><circle cx="289.6" cy="376.9" r="3.20" fill="#3681ba"/><circle cx="291.6" cy="377.1" r="3.20" fill="#3681ba"/><circle cx="293.6" cy="377.4" r="3.20" fill="#3681ba"/><circle cx="295.6" cy="377.7" r="3.20" fill="#3681ba"/><circle cx="297.6" cy="378.0" r="3.20" fill="#3681ba"/><circle cx="299.6" cy="378.3" r="3.20" fill="#3681ba"/><circle cx="301.6" cy="378.6" r="3.20" fill="#3783bb"/><circle cx="303.6" cy="378.9" r="3.20" fill="#3783bb"/><circle cx="305.6" cy="379.2" r="3.20" fill="#3783bb"/><circle cx="307.6" cy="379.4" r="3.20" fill="#3783bb"/><circle cx="309.6" cy="379.7" r="3.20" fill="#3783bb"/><circle cx="311.6" cy="380.0" r="3.20" fill="#3783bb"/><circle cx="313.6" cy="380.3" r="3.20" fill="#3783bb"/><circle cx="315.7" cy="380.6" r="3.20" fill="#3783bb"/><circle cx="317.7" cy="380.9" r="3.20" fill="#3783bb"/><circle cx="319.7" cy="381.2" r="3.20" fill="#3783bb"/><circle cx="321.7" cy="381.5" r="3.20" fill="#3783bb"/><circle cx="323.7" cy="381.7" r="3.20" fill="#3783bb"/><circle cx="325.7" cy="382.0" r="3.20" fill="#3783bb"/><circle cx="327.7" cy="382.3" r="3.20" fill="#3885bc"/><circle cx="329.7" cy="382.6" r="3.20" fill="#3885bc"/><circle cx="331.7" cy="382.9" r="3.20" fill="#3885bc"/><circle cx="333.7" cy="383.2" r="3.20" fill="#3885bc"/><circle cx="335.7" cy="383.5" r="3.20" fill="#3885bc"/><circle cx="337.7" cy="383.7" r="3.20" fill="#3885bc"/><circle cx="339.7" cy="384.0" r="3.20" fill="#3885bc"/><circle cx="341.7" cy="384.3" r="3.20" fill="#3885bc"/><circle cx="343.7" cy="384.6" r="3.20" fill="#3885bc"/><circle cx="345.7" cy="384.9" r="3.20" fill="#3885bc"/><circle cx="347.7" cy="385.2" r="3.20" fill="#3885bc"/><circle cx="349.7" cy="385.5" r="3.20" fill="#3885bc"/><circle cx="351.7" cy="385.8" r="3.20" fill="#3a87bd"/><circle cx="353.7" cy="386.0" r="3.20" fill="#3a87bd"/><circle cx="355.7" cy="386.3" r="3.20" fill="#3a87bd"/><circle cx="357.7" cy="386.6" r="3.20" fill="#3a87bd"/><circle cx="359.7" cy="386.9" r="3.20" fill="#3a87bd"/><circle cx="361.7" cy="387.2" r="3.20" fill="#3a87bd"/><circle cx="363.7" cy="387.5" r="3.20" fill="#3a87bd"/><circle cx="365.7" cy="387.8" r="3.20" fill="#3a87bd"/><circle cx="367.7" cy="388.0" r="3.20" fill="#3a87bd"/><circle cx="369.7" cy="388.3" r="3.20" fill="#3a87bd"/><circle cx="371.7" cy="388.6" r="3.20" fill="#3a87bd"/><circle cx="373.7" cy="388.9" r="3.20" fill="#3a87bd"/><circle cx="375.7" cy="389.2" r="3.20" fill="#3b88be"/><circle cx="377.7" cy="389.5" r="3.20" fill="#3b88be"/><circle cx="379.7" cy="389.8" r="3.20" fill="#3b88be"/><circle cx="381.7" cy="390.1" r="3.20" fill="#3b88be"/><circle cx="383.7" cy="390.3" r="3.20" fill="#3b88be"/><circle cx="385.7" cy="390.6" r="3.20" fill="#3b88be"/><circle cx="387.7" cy="390.9" r="3.20" fill="#3b88be"/><circle cx="389.7" cy="391.2" r="3.20" fill="#3b88be"/><circle cx="391.7" cy="391.5" r="3.20" fill="#3b88be"/><circle cx="393.7" cy="391.8" r="3.20" fill="#3b88be"/><circle cx="395.7" cy="392.1" r="3.20" fill="#3b88be"/><circle cx="397.7" cy="392.4" r="3.20" fill="#3b88be"/><circle cx="399.7" cy="392.6" r="3.20" fill="#3b88be"/><circle cx="401.7" cy="392.9" r="3.20" fill="#3c8abe"/><circle cx="403.7" cy="393.2" r="3.20" fill="#3c8abe"/><circle cx="405.7" cy="393.5" r="3.20" fill="#3c8abe"/><circle cx="407.7" cy="393.8" r="3.20" fill="#3c8abe"/><circle cx="409.7" cy="394.1" r="3.20" fill="#3c8abe"/><circle cx="411.7" cy="394.4" r="3.20" fill="#3c8abe"/><circle cx="413.7" cy="394.6" r="3.20" fill="#3e8cbf"/><circle cx="415.7" cy="394.9" r="3.20" fill="#3e8cbf"/><circle cx="417.7" cy="395.2" r="3.20" fill="#3e8cbf"/><circle cx="419.7" cy="395.5" r="3.20" fill="#3e8cbf"/><circle cx="421.7" cy="395.8" r="3.20" fill="#3e8cbf"/><circle cx="423.7" cy="396.1" r="3.20" fill="#3f8ec0"/><circle cx="425.7" cy="396.4" r="3.20" fill="#3f8ec0"/><circle cx="427.7" cy="396.7" r="3.20" fill="#3f8ec0"/><circle cx="429.7" cy="396.9" r="3.20" fill="#3f8ec0"/><circle cx="431.7" cy="397.2" r="3.20" fill="#3f8ec0"/><circle cx="433.7" cy="397.5" r="3.20" fill="#3f8ec0"/><circle cx="435.7" cy="397.8" r="3.20" fill="#408fc1"/><circle cx="437.7" cy="398.1" r="3.20" fill="#408fc1"/><circle cx="439.7" cy="398.4" r="3.20" fill="#408fc1"/><circle cx="441.7" cy="398.7" r="3.20" fill="#408fc1"/><circle cx="443.7" cy="398.9" r="3.20" fill="#408fc1"/><circle cx="445.7" cy="399.2" r="3.20" fill="#4291c2"/><circle cx="447.7" cy="399.5" r="3.20" fill="#4291c2"/><circle cx="449.7" cy="399.8" r="3.20" fill="#4291c2"/><circle cx="451.7" cy="400.1" r="3.20" fill="#4291c2"/><circle cx="453.7" cy="400.4" r="3.20" fill="#4291c2"/><circle cx="455.7" cy="400.7" r="3.20" fill="#4291c2"/><circle cx="457.7" cy="401.0" r="3.20" fill="#4393c3"/><circle cx="459.7" cy="401.2" r="3.20" fill="#4393c3"/><circle cx="461.7" cy="401.5" r="3.20" fill="#4393c3"/><circle cx="463.8" cy="401.8" r="3.20" fill="#4393c3"/><circle cx="465.8" cy="402.1" r="3.20" fill="#4393c3"/><circle cx="467.8" cy="402.4" r="3.20" fill="#4695c4"/><circle cx="469.8" cy="402.7" r="3.20" fill="#4695c4"/><circle cx="471.8" cy="403.0" r="3.20" fill="#4695c4"/><circle cx="473.8" cy="403.2" r="3.20" fill="#4695c4"/><circle cx="475.8" cy="403.5" r="3.20" fill="#4695c4"/><circle cx="477.8" cy="403.8" r="3.20" fill="#4997c5"/><circle cx="479.8" cy="404.1" r="3.20" fill="#4997c5"/><circle cx="481.8" cy="404.4" r="3.20" fill="#4997c5"/><circle cx="483.8" cy="404.7" r="3.20" fill="#4c99c6"/><circle cx="485.8" cy="405.0" r="3.20" fill="#4c99c6"/><circle cx="487.8" cy="405.3" r="3.20" fill="#4c99c6"/><circle cx="489.8" cy="405.5" r="3.20" fill="#4c99c6"/><circle cx="491.8" cy="405.8" r="3.20" fill="#4f9bc7"/><circle cx="493.8" cy="406.1" r="3.20" fill="#4f9bc7"/><circle cx="495.8" cy="406.4" r="3.20" fill="#4f9bc7"/><circle cx="497.8" cy="406.7" r="3.20" fill="#4f9bc7"/><circle cx="499.8" cy="407.0" r="3.20" fill="#529dc8"/><circle cx="501.8" cy="407.3" r="3.20" fill="#529dc8"/><circle cx="503.8" cy="407.6" r="3.20" fill="#529dc8"/><circle cx="505.8" cy="407.8" r="3.20" fill="#569fc9"/><circle cx="507.8" cy="408.1" r="3.20" fill="#569fc9"/><circle cx="509.8" cy="408.4" r="3.20" fill="#569fc9"/><circle cx="511.8" cy="408.7" r="3.20" fill="#569fc9"/><circle cx="513.8" cy="409.0" r="3.20" fill="#59a1ca"/><circle cx="515.8" cy="409.3" r="3.20" fill="#59a1ca"/><circle cx="517.8" cy="409.6" r="3.20" fill="#59a1ca"/><circle cx="519.8" cy="409.8" r="3.20" fill="#59a1ca"/><circle cx="521.8" cy="410.1" r="3.20" fill="#5ca3cb"/><circle cx="523.8" cy="410.4" r="3.20" fill="#5ca3cb"/><circle cx="525.8" cy="410.7" r="3.20" fill="#5ca3cb"/><circle cx="527.8" cy="411.0" r="3.20" fill="#5fa5cd"/><circle cx="529.8" cy="411.3" r="3.20" fill="#5fa5cd"/><circle cx="531.8" cy="411.6" r="3.20" fill="#5fa5cd"/><circle cx="533.8" cy="411.9" r="3.20" fill="#5fa5cd"/><circle cx="535.8" cy="412.1" r="3.20" fill="#62a7ce"/><circle cx="301.9" cy="364.8" r="3.20" fill="#337eb8"/><circle cx="303.9" cy="365.2" r="3.20" fill="#337eb8"/><circle cx="305.9" cy="365.5" r="3.20" fill="#337eb8"/><circle cx="307.9" cy="365.8" r="3.20" fill="#337eb8"/><circle cx="309.9" cy="366.2" r="3.20" fill="#337eb8"/><circle cx="311.9" cy="366.5" r="3.20" fill="#3480b9"/><circle cx="313.9" cy="366.8" r="3.20" fill="#3480b9"/><circle cx="315.9" cy="367.2" r="3.20" fill="#3480b9"/><circle cx="318.0" cy="367.5" r="3.20" fill="#3480b9"/><circle cx="320.0" cy="367.9" r="3.20" fill="#3480b9"/><circle cx="322.0" cy="368.2" r="3.20" fill="#3480b9"/><circle cx="324.0" cy="368.5" r="3.20" fill="#3480b9"/><circle cx="326.0" cy="368.9" r="3.20" fill="#3480b9"/><circle cx="328.0" cy="369.2" r="3.20" fill="#3480b9"/><circle cx="330.0" cy="369.5" r="3.20" fill="#3681ba"/><circle cx="332.0" cy="369.9" r="3.20" fill="#3681ba"/><circle cx="334.0" cy="370.2" r="3.20" fill="#3681ba"/><circle cx="336.0" cy="370.5" r="3.20" fill="#3681ba"/><circle cx="338.0" cy="370.9" r="3.20" fill="#3681ba"/><circle cx="340.0" cy="371.2" r="3.20" fill="#3681ba"/><circle cx="342.0" cy="371.5" r="3.20" fill="#3681ba"/><circle cx="344.0" cy="371.9" r="3.20" fill="#3681ba"/><circle cx="346.1" cy="372.2" r="3.20" fill="#3681ba"/><circle cx="348.1" cy="372.5" r="3.20" fill="#3681ba"/><circle cx="350.1" cy="372.9" r="3.20" fill="#3783bb"/><circle cx="352.1" cy="373.2" r="3.20" fill="#3783bb"/><circle cx="354.1" cy="373.5" r="3.20" fill="#3783bb"/><circle cx="356.1" cy="373.9" r="3.20" fill="#3783bb"/><circle cx="358.1" cy="374.2" r="3.20" fill="#3783bb"/><circle cx="360.1" cy="374.5" r="3.20" fill="#3783bb"/><circle cx="362.1" cy="374.9" r="3.20" fill="#3783bb"/><circle cx="364.1" cy="375.2" r="3.20" fill="#3783bb"/><circle cx="366.1" cy="375.5" r="3.20" fill="#3783bb"/><circle cx="368.1" cy="375.9" r="3.20" fill="#3885bc"/><circle cx="370.1" cy="376.2" r="3.20" fill="#3885bc"/><circle cx="372.1" cy="376.5" r="3.20" fill="#3885bc"/><circle cx="374.1" cy="376.9" r="3.20" fill="#3885bc"/><circle cx="376.2" cy="377.2" r="3.20" fill="#3885bc"/><circle cx="378.2" cy="377.5" r="3.20" fill="#3885bc"/><circle cx="380.2" cy="377.9" r="3.20" fill="#3885bc"/><circle cx="382.2" cy="378.2" r="3.20" fill="#3885bc"/><circle cx="384.2" cy="378.5" r="3.20" fill="#3885bc"/><circle cx="386.2" cy="378.9" r="3.20" fill="#3885bc"/><circle cx="388.2" cy="379.2" r="3.20" fill="#3a87bd"/><circle cx="390.2" cy="379.5" r="3.20" fill="#3a87bd"/><circle cx="392.2" cy="379.9" r="3.20" fill="#3a87bd"/><circle cx="394.2" cy="380.2" r="3.20" fill="#3a87bd"/><circle cx="396.2" cy="380.5" r="3.20" fill="#3a87bd"/><circle cx="398.2" cy="380.9" r="3.20" fill="#3a87bd"/><circle cx="400.2" cy="381.2" r="3.20" fill="#3a87bd"/><circle cx="402.2" cy="381.5" r="3.20" fill="#3a87bd"/><circle cx="404.2" cy="381.9" r="3.20" fill="#3a87bd"/><circle cx="406.3" cy="382.2" r="3.20" fill="#3b88be"/><circle cx="408.3" cy="382.5" r="3.20" fill="#3b88be"/><circle cx="410.3" cy="382.9" r="3.20" fill="#3b88be"/><circle cx="412.3" cy="383.2" r="3.20" fill="#3b88be"/><circle cx="414.3" cy="383.5" r="3.20" fill="#3b88be"/><circle cx="416.3" cy="383.9" r="3.20" fill="#3c8abe"/><circle cx="418.3" cy="384.2" r="3.20" fill="#3c8abe"/><circle cx="420.3" cy="384.5" r="3.20" fill="#3c8abe"/><circle cx="422.3" cy="384.9" r="3.20" fill="#3c8abe"/><circle cx="424.3" cy="385.2" r="3.20" fill="#3c8abe"/><circle cx="426.3" cy="385.5" r="3.20" fill="#3e8cbf"/><circle cx="428.3" cy="385.9" r="3.20" fill="#3e8cbf"/><circle cx="430.3" cy="386.2" r="3.20" fill="#3e8cbf"/><circle cx="432.3" cy="386.6" r="3.20" fill="#3e8cbf"/><circle cx="434.4" cy="386.9" r="3.20" fill="#3e8cbf"/><circle cx="436.4" cy="387.2" r="3.20" fill="#3e8cbf"/><circle cx="438.4" cy="387.6" r="3.20" fill="#3f8ec0"/><circle cx="440.4" cy="387.9" r="3.20" fill="#3f8ec0"/><circle cx="442.4" cy="388.2" r="3.20" fill="#3f8ec0"/><circle cx="444.4" cy="388.6" r="3.20" fill="#3f8ec0"/><circle cx="446.4" cy="388.9" r="3.20" fill="#3f8ec0"/><circle cx="448.4" cy="389.2" r="3.20" fill="#408fc1"/><circle cx="450.4" cy="389.6" r="3.20" fill="#408fc1"/><circle cx="452.4" cy="389.9" r="3.20" fill="#408fc1"/><circle cx="454.4" cy="390.2" r="3.20" fill="#408fc1"/><circle cx="456.4" cy="390.6" r="3.20" fill="#408fc1"/><circle cx="458.4" cy="390.9" r="3.20" fill="#408fc1"/><circle cx="460.4" cy="391.2" r="3.20" fill="#4291c2"/><circle cx="462.4" cy="391.6" r="3.20" fill="#4291c2"/><circle cx="464.5" cy="391.9" r="3.20" fill="#4291c2"/><circle cx="466.5" cy="392.2" r="3.20" fill="#4291c2"/><circle cx="468.5" cy="392.6" r="3.20" fill="#4291c2"/><circle cx="470.5" cy="392.9" r="3.20" fill="#4393c3"/><circle cx="472.5" cy="393.2" r="3.20" fill="#4393c3"/><circle cx="474.5" cy="393.6" r="3.20" fill="#4393c3"/><circle cx="476.5" cy="393.9" r="3.20" fill="#4393c3"/><circle cx="478.5" cy="394.2" r="3.20" fill="#4695c4"/><circle cx="480.5" cy="394.6" r="3.20" fill="#4695c4"/><circle cx="482.5" cy="394.9" r="3.20" fill="#4695c4"/><circle cx="484.5" cy="395.2" r="3.20" fill="#4997c5"/><circle cx="486.5" cy="395.6" r="3.20" fill="#4997c5"/><circle cx="488.5" cy="395.9" r="3.20" fill="#4997c5"/><circle cx="490.5" cy="396.2" r="3.20" fill="#4997c5"/><circle cx="492.6" cy="396.6" r="3.20" fill="#4c99c6"/><circle cx="494.6" cy="396.9" r="3.20" fill="#4c99c6"/><circle cx="496.6" cy="397.2" r="3.20" fill="#4c99c6"/><circle cx="498.6" cy="397.6" r="3.20" fill="#4f9bc7"/><circle cx="500.6" cy="397.9" r="3.20" fill="#4f9bc7"/><circle cx="502.6" cy="398.2" r="3.20" fill="#4f9bc7"/><circle cx="504.6" cy="398.6" r="3.20" fill="#4f9bc7"/><circle cx="506.6" cy="398.9" r="3.20" fill="#529dc8"/><circle cx="508.6" cy="399.2" r="3.20" fill="#529dc8"/><circle cx="510.6" cy="399.6" r="3.20" fill="#529dc8"/><circle cx="512.6" cy="399.9" r="3.20" fill="#569fc9"/><circle cx="514.6" cy="400.2" r="3.20" fill="#569fc9"/><circle cx="516.6" cy="400.6" r="3.20" fill="#569fc9"/><circle cx="518.6" cy="400.9" r="3.20" fill="#569fc9"/><circle cx="520.6" cy="401.2" r="3.20" fill="#59a1ca"/><circle cx="522.7" cy="401.6" r="3.20" fill="#59a1ca"/><circle cx="524.7" cy="401.9" r="3.20" fill="#59a1ca"/><circle cx="526.7" cy="402.2" r="3.20" fill="#5ca3cb"/><circle cx="528.7" cy="402.6" r="3.20" fill="#5ca3cb"/><circle cx="530.7" cy="402.9" r="3.20" fill="#5ca3cb"/><circle cx="532.7" cy="403.2" r="3.20" fill="#5fa5cd"/><circle cx="534.7" cy="403.6" r="3.20" fill="#5fa5cd"/><circle cx="536.7" cy="403.9" r="3.20" fill="#5fa5cd"/><circle cx="538.7" cy="404.2" r="3.20" fill="#5fa5cd"/><circle cx="540.7" cy="404.6" r="3.20" fill="#62a7ce"/><circle cx="542.7" cy="404.9" r="3.20" fill="#62a7ce"/><circle cx="544.7" cy="405.3" r="3.20" fill="#62a7ce"/><circle cx="546.7" cy="405.6" r="3.20" fill="#62a7ce"/><circle cx="548.7" cy="405.9" r="3.20" fill="#65a9cf"/><circle cx="550.7" cy="406.3" r="3.20" fill="#65a9cf"/><circle cx="552.8" cy="406.6" r="3.20" fill="#65a9cf"/><circle cx="554.8" cy="406.9" r="3.20" fill="#65a9cf"/><circle cx="556.8" cy="407.3" r="3.20" fill="#65a9cf"/><circle cx="558.8" cy="407.6" r="3.20" fill="#65a9cf"/><circle cx="560.8" cy="407.9" r="3.20" fill="#68abd0"/><circle cx="562.8" cy="408.3" r="3.20" fill="#68abd0"/><circle cx="564.8" cy="408.6" r="3.20" fill="#68abd0"/><circle cx="566.8" cy="408.9" r="3.20" fill="#68abd0"/><circle cx="568.8" cy="409.3" r="3.20" fill="#68abd0"/><circle cx="570.8" cy="409.6" r="3.20" fill="#6bacd1"/><circle cx="572.8" cy="409.9" r="3.20" fill="#6bacd1"/><circle cx="574.8" cy="410.3" r="3.20" fill="#6bacd1"/><circle cx="576.8" cy="410.6" r="3.20" fill="#6bacd1"/><circle cx="578.8" cy="410.9" r="3.20" fill="#6bacd1"/><circle cx="580.9" cy="411.3" r="3.20" fill="#6eaed2"/><circle cx="582.9" cy="411.6" r="3.20" fill="#6eaed2"/><circle cx="584.9" cy="411.9" r="3.20" fill="#6eaed2"/><circle cx="586.9" cy="412.3" r="3.20" fill="#6eaed2"/><circle cx="588.9" cy="412.6" r="3.20" fill="#6eaed2"/><circle cx="590.9" cy="412.9" r="3.20" fill="#6eaed2"/><circle cx="592.9" cy="413.3" r="3.20" fill="#71b0d3"/><circle cx="594.9" cy="413.6" r="3.20" fill="#71b0d3"/><circle cx="362.5" cy="359.2" r="3.20" fill="#337eb8"/><circle cx="364.5" cy="359.6" r="3.20" fill="#337eb8"/><circle cx="366.5" cy="360.0" r="3.20" fill="#337eb8"/><circle cx="368.5" cy="360.3" r="3.20" fill="#337eb8"/><circle cx="370.5" cy="360.7" r="3.20" fill="#3480b9"/><circle cx="372.5" cy="361.1" r="3.20" fill="#3480b9"/><circle cx="374.5" cy="361.5" r="3.20" fill="#3480b9"/><circle cx="376.5" cy="361.9" r="3.20" fill="#3480b9"/><circle cx="378.5" cy="362.3" r="3.20" fill="#3480b9"/><circle cx="380.5" cy="362.7" r="3.20" fill="#3480b9"/><circle cx="382.5" cy="363.1" r="3.20" fill="#3681ba"/><circle cx="384.4" cy="363.5" r="3.20" fill="#3681ba"/><circle cx="386.4" cy="363.9" r="3.20" fill="#3681ba"/><circle cx="388.4" cy="364.2" r="3.20" fill="#3681ba"/><circle cx="390.4" cy="364.6" r="3.20" fill="#3681ba"/><circle cx="392.4" cy="365.0" r="3.20" fill="#3681ba"/><circle cx="394.4" cy="365.4" r="3.20" fill="#3783bb"/><circle cx="396.4" cy="365.8" r="3.20" fill="#3783bb"/><circle cx="398.4" cy="366.2" r="3.20" fill="#3783bb"/><circle cx="400.4" cy="366.6" r="3.20" fill="#3783bb"/><circle cx="402.4" cy="367.0" r="3.20" fill="#3783bb"/><circle cx="404.4" cy="367.4" r="3.20" fill="#3783bb"/><circle cx="406.4" cy="367.8" r="3.20" fill="#3885bc"/><circle cx="408.4" cy="368.2" r="3.20" fill="#3885bc"/><circle cx="410.4" cy="368.5" r="3.20" fill="#3885bc"/><circle cx="412.4" cy="368.9" r="3.20" fill="#3885bc"/><circle cx="414.4" cy="369.3" r="3.20" fill="#3885bc"/><circle cx="416.4" cy="369.7" r="3.20" fill="#3885bc"/><circle cx="418.4" cy="370.1" r="3.20" fill="#3a87bd"/><circle cx="420.4" cy="370.5" r="3.20" fill="#3a87bd"/><circle cx="422.4" cy="370.9" r="3.20" fill="#3a87bd"/><circle cx="424.4" cy="371.3" r="3.20" fill="#3a87bd"/><circle cx="426.3" cy="371.7" r="3.20" fill="#3a87bd"/><circle cx="428.3" cy="372.1" r="3.20" fill="#3a87bd"/><circle cx="430.3" cy="372.4" r="3.20" fill="#3b88be"/><circle cx="432.3" cy="372.8" r="3.20" fill="#3b88be"/><circle cx="434.3" cy="373.2" r="3.20" fill="#3b88be"/><circle cx="436.3" cy="373.6" r="3.20" fill="#3b88be"/><circle cx="438.3" cy="374.0" r="3.20" fill="#3b88be"/><circle cx="440.3" cy="374.4" r="3.20" fill="#3b88be"/><circle cx="442.3" cy="374.8" r="3.20" fill="#3c8abe"/><circle cx="444.3" cy="375.2" r="3.20" fill="#3c8abe"/><circle cx="446.3" cy="375.6" r="3.20" fill="#3c8abe"/><circle cx="448.3" cy="376.0" r="3.20" fill="#3e8cbf"/><circle cx="450.3" cy="376.4" r="3.20" fill="#3e8cbf"/><circle cx="452.3" cy="376.7" r="3.20" fill="#3e8cbf"/><circle cx="454.3" cy="377.1" r="3.20" fill="#3f8ec0"/><circle cx="456.3" cy="377.5" r="3.20" fill="#3f8ec0"/><circle cx="458.3" cy="377.9" r="3.20" fill="#3f8ec0"/><circle cx="460.3" cy="378.3" r="3.20" fill="#408fc1"/><circle cx="462.3" cy="378.7" r="3.20" fill="#408fc1"/><circle cx="464.3" cy="379.1" r="3.20" fill="#408fc1"/><circle cx="466.3" cy="379.5" r="3.20" fill="#4291c2"/><circle cx="468.2" cy="379.9" r="3.20" fill="#4291c2"/><circle cx="470.2" cy="380.3" r="3.20" fill="#4291c2"/><circle cx="472.2" cy="380.6" r="3.20" fill="#4393c3"/><circle cx="474.2" cy="381.0" r="3.20" fill="#4393c3"/><circle cx="476.2" cy="381.4" r="3.20" fill="#4393c3"/><circle cx="478.2" cy="381.8" r="3.20" fill="#4393c3"/><circle cx="480.2" cy="382.2" r="3.20" fill="#4695c4"/><circle cx="482.2" cy="382.6" r="3.20" fill="#4695c4"/><circle cx="484.2" cy="383.0" r="3.20" fill="#4695c4"/><circle cx="486.2" cy="383.4" r="3.20" fill="#4695c4"/><circle cx="488.2" cy="383.8" r="3.20" fill="#4997c5"/><circle cx="490.2" cy="384.2" r="3.20" fill="#4997c5"/><circle cx="492.2" cy="384.6" r="3.20" fill="#4997c5"/><circle cx="494.2" cy="384.9" r="3.20" fill="#4c99c6"/><circle cx="496.2" cy="385.3" r="3.20" fill="#4c99c6"/><circle cx="498.2" cy="385.7" r="3.20" fill="#4c99c6"/><circle cx="500.2" cy="386.1" r="3.20" fill="#4c99c6"/><circle cx="502.2" cy="386.5" r="3.20" fill="#4f9bc7"/><circle cx="504.2" cy="386.9" r="3.20" fill="#4f9bc7"/><circle cx="506.2" cy="387.3" r="3.20" fill="#4f9bc7"/><circle cx="508.1" cy="387.7" r="3.20" fill="#4f9bc7"/><circle cx="510.1" cy="388.1" r="3.20" fill="#529dc8"/><circle cx="512.1" cy="388.5" r="3.20" fill="#529dc8"/><circle cx="514.1" cy="388.8" r="3.20" fill="#529dc8"/><circle cx="516.1" cy="389.2" r="3.20" fill="#529dc8"/><circle cx="518.1" cy="389.6" r="3.20" fill="#569fc9"/><circle cx="520.1" cy="390.0" r="3.20" fill="#569fc9"/><circle cx="522.1" cy="390.4" r="3.20" fill="#569fc9"/><circle cx="524.1" cy="390.8" r="3.20" fill="#569fc9"/><circle cx="526.1" cy="391.2" r="3.20" fill="#59a1ca"/><circle cx="528.1" cy="391.6" r="3.20" fill="#59a1ca"/><circle cx="530.1" cy="392.0" r="3.20" fill="#59a1ca"/><circle cx="532.1" cy="392.4" r="3.20" fill="#59a1ca"/><circle cx="534.1" cy="392.7" r="3.20" fill="#5ca3cb"/><circle cx="536.1" cy="393.1" r="3.20" fill="#5ca3cb"/><circle cx="538.1" cy="393.5" r="3.20" fill="#5ca3cb"/><circle cx="540.1" cy="393.9" r="3.20" fill="#5ca3cb"/><circle cx="542.1" cy="394.3" r="3.20" fill="#5fa5cd"/><circle cx="544.1" cy="394.7" r="3.20" fill="#62a7ce"/><circle cx="546.1" cy="395.1" r="3.20" fill="#65a9cf"/><circle cx="548.1" cy="395.5" r="3.20" fill="#68abd0"/><circle cx="550.0" cy="395.9" r="3.20" fill="#6bacd1"/><circle cx="552.0" cy="396.3" r="3.20" fill="#6eaed2"/><circle cx="554.0" cy="396.7" r="3.20" fill="#71b0d3"/><circle cx="556.0" cy="397.0" r="3.20" fill="#78b4d5"/><circle cx="558.0" cy="397.4" r="3.20" fill="#7bb6d6"/><circle cx="560.0" cy="397.8" r="3.20" fill="#7eb8d7"/><circle cx="562.0" cy="398.2" r="3.20" fill="#81bad8"/><circle cx="564.0" cy="398.6" r="3.20" fill="#81bad8"/><circle cx="566.0" cy="399.0" r="3.20" fill="#81bad8"/><circle cx="568.0" cy="399.4" r="3.20" fill="#84bcd9"/><circle cx="570.0" cy="399.8" r="3.20" fill="#84bcd9"/><circle cx="572.0" cy="400.2" r="3.20" fill="#84bcd9"/><circle cx="574.0" cy="400.6" r="3.20" fill="#84bcd9"/><circle cx="576.0" cy="400.9" r="3.20" fill="#84bcd9"/><circle cx="578.0" cy="401.3" r="3.20" fill="#84bcd9"/><circle cx="580.0" cy="401.7" r="3.20" fill="#84bcd9"/><circle cx="582.0" cy="402.1" r="3.20" fill="#84bcd9"/><circle cx="584.0" cy="402.5" r="3.20" fill="#87beda"/><circle cx="586.0" cy="402.9" r="3.20" fill="#87beda"/><circle cx="588.0" cy="403.3" r="3.20" fill="#87beda"/><circle cx="590.0" cy="403.7" r="3.20" fill="#87beda"/><circle cx="591.9" cy="404.1" r="3.20" fill="#87beda"/><circle cx="593.9" cy="404.5" r="3.20" fill="#87beda"/><circle cx="595.9" cy="404.9" r="3.20" fill="#87beda"/><circle cx="597.9" cy="405.2" r="3.20" fill="#87beda"/><circle cx="599.9" cy="405.6" r="3.20" fill="#8ac0db"/><circle cx="601.9" cy="406.0" r="3.20" fill="#8ac0db"/><circle cx="603.9" cy="406.4" r="3.20" fill="#8ac0db"/><circle cx="605.9" cy="406.8" r="3.20" fill="#8dc2dc"/><circle cx="607.9" cy="407.2" r="3.20" fill="#8dc2dc"/><circle cx="609.9" cy="407.6" r="3.20" fill="#90c4dd"/><circle cx="611.9" cy="408.0" r="3.20" fill="#90c4dd"/><circle cx="613.9" cy="408.4" r="3.20" fill="#93c6de"/><circle cx="615.9" cy="408.8" r="3.20" fill="#93c6de"/><circle cx="617.9" cy="409.1" r="3.20" fill="#96c7df"/><circle cx="619.9" cy="409.5" r="3.20" fill="#96c7df"/><circle cx="621.9" cy="409.9" r="3.20" fill="#98c8e0"/><circle cx="623.9" cy="410.3" r="3.20" fill="#98c8e0"/><circle cx="625.9" cy="410.7" r="3.20" fill="#96c7df"/><circle cx="627.9" cy="411.1" r="3.20" fill="#96c7df"/><circle cx="629.9" cy="411.5" r="3.20" fill="#96c7df"/><circle cx="631.9" cy="411.9" r="3.20" fill="#96c7df"/><circle cx="633.8" cy="412.3" r="3.20" fill="#93c6de"/><circle cx="635.8" cy="412.7" r="3.20" fill="#93c6de"/><circle cx="637.8" cy="413.1" r="3.20" fill="#93c6de"/><circle cx="639.8" cy="413.4" r="3.20" fill="#93c6de"/><circle cx="641.8" cy="413.8" r="3.20" fill="#90c4dd"/><circle cx="643.8" cy="414.2" r="3.20" fill="#90c4dd"/><circle cx="645.8" cy="414.6" r="3.20" fill="#90c4dd"/><circle cx="647.8" cy="415.0" r="3.20" fill="#8dc2dc"/><circle cx="649.8" cy="415.4" r="3.20" fill="#a2cde3"/><circle cx="651.8" cy="415.8" r="3.20" fill="#dbeaf2"/><circle cx="653.8" cy="416.2" r="3.20" fill="#f8f3f0"/><circle cx="423.1" cy="350.1" r="3.20" fill="#337eb8"/><circle cx="425.1" cy="350.6" r="3.20" fill="#337eb8"/><circle cx="427.1" cy="351.1" r="3.20" fill="#337eb8"/><circle cx="429.1" cy="351.6" r="3.20" fill="#337eb8"/><circle cx="431.1" cy="352.1" r="3.20" fill="#3480b9"/><circle cx="433.1" cy="352.5" r="3.20" fill="#3480b9"/><circle cx="435.1" cy="353.0" r="3.20" fill="#3480b9"/><circle cx="437.1" cy="353.5" r="3.20" fill="#3480b9"/><circle cx="439.1" cy="354.0" r="3.20" fill="#3480b9"/><circle cx="441.1" cy="354.5" r="3.20" fill="#3480b9"/><circle cx="443.0" cy="355.0" r="3.20" fill="#3681ba"/><circle cx="445.0" cy="355.5" r="3.20" fill="#3681ba"/><circle cx="447.0" cy="355.9" r="3.20" fill="#3681ba"/><circle cx="449.0" cy="356.4" r="3.20" fill="#3681ba"/><circle cx="451.0" cy="356.9" r="3.20" fill="#3681ba"/><circle cx="453.0" cy="357.4" r="3.20" fill="#3681ba"/><circle cx="455.0" cy="357.9" r="3.20" fill="#3783bb"/><circle cx="457.0" cy="358.4" r="3.20" fill="#3783bb"/><circle cx="459.0" cy="358.8" r="3.20" fill="#3783bb"/><circle cx="461.0" cy="359.3" r="3.20" fill="#3783bb"/><circle cx="463.0" cy="359.8" r="3.20" fill="#3783bb"/><circle cx="465.0" cy="360.3" r="3.20" fill="#3783bb"/><circle cx="467.0" cy="360.8" r="3.20" fill="#3885bc"/><circle cx="469.0" cy="361.3" r="3.20" fill="#3885bc"/><circle cx="471.0" cy="361.7" r="3.20" fill="#3885bc"/><circle cx="473.0" cy="362.2" r="3.20" fill="#3885bc"/><circle cx="475.0" cy="362.7" r="3.20" fill="#3885bc"/><circle cx="477.0" cy="363.2" r="3.20" fill="#3885bc"/><circle cx="478.9" cy="363.7" r="3.20" fill="#3a87bd"/><circle cx="480.9" cy="364.2" r="3.20" fill="#3a87bd"/><circle cx="482.9" cy="364.6" r="3.20" fill="#3a87bd"/><circle cx="484.9" cy="365.1" r="3.20" fill="#3a87bd"/><circle cx="486.9" cy="365.6" r="3.20" fill="#3a87bd"/><circle cx="488.9" cy="366.1" r="3.20" fill="#3b88be"/><circle cx="490.9" cy="366.6" r="3.20" fill="#3b88be"/><circle cx="492.9" cy="367.1" r="3.20" fill="#3c8abe"/><circle cx="494.9" cy="367.5" r="3.20" fill="#3c8abe"/><circle cx="496.9" cy="368.0" r="3.20" fill="#3e8cbf"/><circle cx="498.9" cy="368.5" r="3.20" fill="#3e8cbf"/><circle cx="500.9" cy="369.0" r="3.20" fill="#3f8ec0"/><circle cx="502.9" cy="369.5" r="3.20" fill="#3f8ec0"/><circle cx="504.9" cy="370.0" r="3.20" fill="#408fc1"/><circle cx="506.9" cy="370.5" r="3.20" fill="#408fc1"/><circle cx="508.9" cy="370.9" r="3.20" fill="#4291c2"/><circle cx="510.9" cy="371.4" r="3.20" fill="#4291c2"/><circle cx="512.9" cy="371.9" r="3.20" fill="#4393c3"/><circle cx="514.8" cy="372.4" r="3.20" fill="#4393c3"/><circle cx="516.8" cy="372.9" r="3.20" fill="#4695c4"/><circle cx="518.8" cy="373.4" r="3.20" fill="#4695c4"/><circle cx="520.8" cy="373.8" r="3.20" fill="#4997c5"/><circle cx="522.8" cy="374.3" r="3.20" fill="#4997c5"/><circle cx="524.8" cy="374.8" r="3.20" fill="#4c99c6"/><circle cx="526.8" cy="375.3" r="3.20" fill="#4c99c6"/><circle cx="528.8" cy="375.8" r="3.20" fill="#4f9bc7"/><circle cx="530.8" cy="376.3" r="3.20" fill="#4f9bc7"/><circle cx="532.8" cy="376.7" r="3.20" fill="#529dc8"/><circle cx="534.8" cy="377.2" r="3.20" fill="#529dc8"/><circle cx="536.8" cy="377.7" r="3.20" fill="#569fc9"/><circle cx="538.8" cy="378.2" r="3.20" fill="#59a1ca"/><circle cx="540.8" cy="378.7" r="3.20" fill="#59a1ca"/><circle cx="542.8" cy="379.2" r="3.20" fill="#5ca3cb"/><circle cx="544.8" cy="379.6" r="3.20" fill="#5ca3cb"/><circle cx="546.8" cy="380.1" r="3.20" fill="#5fa5cd"/><circle cx="548.8" cy="380.6" r="3.20" fill="#62a7ce"/><circle cx="550.7" cy="381.1" r="3.20" fill="#65a9cf"/><circle cx="552.7" cy="381.6" r="3.20" fill="#65a9cf"/><circle cx="554.7" cy="382.1" r="3.20" fill="#68abd0"/><circle cx="556.7" cy="382.5" r="3.20" fill="#6bacd1"/><circle cx="558.7" cy="383.0" r="3.20" fill="#6eaed2"/><circle cx="560.7" cy="383.5" r="3.20" fill="#6eaed2"/><circle cx="562.7" cy="384.0" r="3.20" fill="#71b0d3"/><circle cx="564.7" cy="384.5" r="3.20" fill="#75b2d4"/><circle cx="566.7" cy="385.0" r="3.20" fill="#78b4d5"/><circle cx="568.7" cy="385.5" r="3.20" fill="#7bb6d6"/><circle cx="570.7" cy="385.9" r="3.20" fill="#7eb8d7"/><circle cx="572.7" cy="386.4" r="3.20" fill="#81bad8"/><circle cx="574.7" cy="386.9" r="3.20" fill="#84bcd9"/><circle cx="576.7" cy="387.4" r="3.20" fill="#87beda"/><circle cx="578.7" cy="387.9" r="3.20" fill="#8ac0db"/><circle cx="580.7" cy="388.4" r="3.20" fill="#90c4dd"/><circle cx="582.7" cy="388.8" r="3.20" fill="#90c4dd"/><circle cx="584.7" cy="389.3" r="3.20" fill="#93c6de"/><circle cx="586.6" cy="389.8" r="3.20" fill="#93c6de"/><circle cx="588.6" cy="390.3" r="3.20" fill="#96c7df"/><circle cx="590.6" cy="390.8" r="3.20" fill="#96c7df"/><circle cx="592.6" cy="391.3" r="3.20" fill="#96c7df"/><circle cx="594.6" cy="391.7" r="3.20" fill="#98c8e0"/><circle cx="596.6" cy="392.2" r="3.20" fill="#98c8e0"/><circle cx="598.6" cy="392.7" r="3.20" fill="#98c8e0"/><circle cx="600.6" cy="393.2" r="3.20" fill="#9bc9e0"/><circle cx="602.6" cy="393.7" r="3.20" fill="#9bc9e0"/><circle cx="604.6" cy="394.2" r="3.20" fill="#9bc9e0"/><circle cx="606.6" cy="394.6" r="3.20" fill="#9bc9e0"/><circle cx="608.6" cy="395.1" r="3.20" fill="#98c8e0"/><circle cx="610.6" cy="395.6" r="3.20" fill="#98c8e0"/><circle cx="612.6" cy="396.1" r="3.20" fill="#98c8e0"/><circle cx="614.6" cy="396.6" r="3.20" fill="#98c8e0"/><circle cx="616.6" cy="397.1" r="3.20" fill="#96c7df"/><circle cx="618.6" cy="397.5" r="3.20" fill="#96c7df"/><circle cx="620.6" cy="398.0" r="3.20" fill="#96c7df"/><circle cx="622.5" cy="398.5" r="3.20" fill="#93c6de"/><circle cx="624.5" cy="399.0" r="3.20" fill="#93c6de"/><circle cx="626.5" cy="399.5" r="3.20" fill="#90c4dd"/><circle cx="628.5" cy="400.0" r="3.20" fill="#90c4dd"/><circle cx="630.5" cy="400.5" r="3.20" fill="#8dc2dc"/><circle cx="632.5" cy="400.9" r="3.20" fill="#8dc2dc"/><circle cx="634.5" cy="401.4" r="3.20" fill="#8ac0db"/><circle cx="636.5" cy="401.9" r="3.20" fill="#8ac0db"/><circle cx="638.5" cy="402.4" r="3.20" fill="#87beda"/><circle cx="640.5" cy="402.9" r="3.20" fill="#87beda"/><circle cx="642.5" cy="403.4" r="3.20" fill="#84bcd9"/><circle cx="644.5" cy="403.8" r="3.20" fill="#84bcd9"/><circle cx="646.5" cy="404.3" r="3.20" fill="#84bcd9"/><circle cx="648.5" cy="404.8" r="3.20" fill="#84bcd9"/><circle cx="650.5" cy="405.3" r="3.20" fill="#bddbea"/><circle cx="652.5" cy="405.8" r="3.20" fill="#f2f5f6"/><circle cx="654.5" cy="406.3" r="3.20" fill="#f9f0eb"/><circle cx="656.5" cy="406.7" r="3.20" fill="#f9f0eb"/><circle cx="658.4" cy="407.2" r="3.20" fill="#d8e9f1"/><circle cx="660.4" cy="407.7" r="3.20" fill="#a5cee3"/><circle cx="662.4" cy="408.2" r="3.20" fill="#96c7df"/><circle cx="664.4" cy="408.7" r="3.20" fill="#96c7df"/><circle cx="666.4" cy="409.2" r="3.20" fill="#93c6de"/><circle cx="668.4" cy="409.6" r="3.20" fill="#7bb6d6"/><circle cx="670.4" cy="410.1" r="3.20" fill="#71b0d3"/><circle cx="672.4" cy="410.6" r="3.20" fill="#71b0d3"/><circle cx="674.4" cy="411.1" r="3.20" fill="#71b0d3"/><circle cx="676.4" cy="411.6" r="3.20" fill="#71b0d3"/><circle cx="678.4" cy="412.1" r="3.20" fill="#6eaed2"/><circle cx="680.4" cy="412.5" r="3.20" fill="#68abd0"/><circle cx="682.4" cy="413.0" r="3.20" fill="#62a7ce"/><circle cx="684.4" cy="413.5" r="3.20" fill="#62a7ce"/><circle cx="686.4" cy="414.0" r="3.20" fill="#62a7ce"/><circle cx="688.4" cy="414.5" r="3.20" fill="#62a7ce"/><circle cx="690.4" cy="415.0" r="3.20" fill="#9dcbe1"/><circle cx="692.4" cy="415.5" r="3.20" fill="#dae9f2"/><circle cx="694.3" cy="415.9" r="3.20" fill="#e0ecf3"/><circle cx="696.3" cy="416.4" r="3.20" fill="#ddebf2"/><circle cx="698.3" cy="416.9" r="3.20" fill="#acd2e5"/><circle cx="700.3" cy="417.4" r="3.20" fill="#5fa5cd"/><circle cx="702.3" cy="417.9" r="3.20" fill="#3f8ec0"/><circle cx="704.3" cy="418.4" r="3.20" fill="#3f8ec0"/><circle cx="706.3" cy="418.8" r="3.20" fill="#3f8ec0"/><circle cx="708.3" cy="419.3" r="3.20" fill="#3f8ec0"/><circle cx="710.3" cy="419.8" r="3.20" fill="#3f8ec0"/><circle cx="712.3" cy="420.3" r="3.20" fill="#3f8ec0"/><circle cx="484.7" cy="335.7" r="3.20" fill="#337eb8"/><circle cx="486.7" cy="336.4" r="3.20" fill="#337eb8"/><circle cx="488.7" cy="337.0" r="3.20" fill="#337eb8"/><circle cx="490.7" cy="337.6" r="3.20" fill="#337eb8"/><circle cx="492.7" cy="338.2" r="3.20" fill="#337eb8"/><circle cx="494.7" cy="338.9" r="3.20" fill="#337eb8"/><circle cx="496.7" cy="339.5" r="3.20" fill="#337eb8"/><circle cx="498.7" cy="340.1" r="3.20" fill="#337eb8"/><circle cx="500.6" cy="340.8" r="3.20" fill="#3480b9"/><circle cx="502.6" cy="341.4" r="3.20" fill="#3480b9"/><circle cx="504.6" cy="342.0" r="3.20" fill="#3480b9"/><circle cx="506.6" cy="342.6" r="3.20" fill="#3480b9"/><circle cx="508.6" cy="343.3" r="3.20" fill="#3480b9"/><circle cx="510.6" cy="343.9" r="3.20" fill="#3480b9"/><circle cx="512.6" cy="344.5" r="3.20" fill="#3480b9"/><circle cx="514.6" cy="345.2" r="3.20" fill="#3480b9"/><circle cx="516.6" cy="345.8" r="3.20" fill="#3480b9"/><circle cx="518.6" cy="346.4" r="3.20" fill="#3480b9"/><circle cx="520.6" cy="347.0" r="3.20" fill="#3480b9"/><circle cx="522.6" cy="347.7" r="3.20" fill="#3480b9"/><circle cx="524.6" cy="348.3" r="3.20" fill="#3480b9"/><circle cx="526.6" cy="348.9" r="3.20" fill="#3480b9"/><circle cx="528.6" cy="349.6" r="3.20" fill="#3480b9"/><circle cx="530.6" cy="350.2" r="3.20" fill="#3480b9"/><circle cx="532.5" cy="350.8" r="3.20" fill="#3480b9"/><circle cx="534.5" cy="351.4" r="3.20" fill="#3480b9"/><circle cx="536.5" cy="352.1" r="3.20" fill="#3480b9"/><circle cx="538.5" cy="352.7" r="3.20" fill="#3480b9"/><circle cx="540.5" cy="353.3" r="3.20" fill="#3681ba"/><circle cx="542.5" cy="354.0" r="3.20" fill="#3681ba"/><circle cx="544.5" cy="354.6" r="3.20" fill="#3681ba"/><circle cx="546.5" cy="355.2" r="3.20" fill="#3681ba"/><circle cx="548.5" cy="355.8" r="3.20" fill="#3681ba"/><circle cx="550.5" cy="356.5" r="3.20" fill="#3681ba"/><circle cx="552.5" cy="357.1" r="3.20" fill="#3681ba"/><circle cx="554.5" cy="357.7" r="3.20" fill="#3681ba"/><circle cx="556.5" cy="358.4" r="3.20" fill="#3681ba"/><circle cx="558.5" cy="359.0" r="3.20" fill="#3681ba"/><circle cx="560.5" cy="359.6" r="3.20" fill="#3681ba"/><circle cx="562.5" cy="360.2" r="3.20" fill="#3681ba"/><circle cx="564.4" cy="360.9" r="3.20" fill="#3681ba"/><circle cx="566.4" cy="361.5" r="3.20" fill="#3681ba"/><circle cx="568.4" cy="362.1" r="3.20" fill="#3681ba"/><circle cx="570.4" cy="362.8" r="3.20" fill="#3681ba"/><circle cx="572.4" cy="363.4" r="3.20" fill="#3681ba"/><circle cx="574.4" cy="364.0" r="3.20" fill="#3681ba"/><circle cx="576.4" cy="364.6" r="3.20" fill="#3681ba"/><circle cx="578.4" cy="365.3" r="3.20" fill="#3783bb"/><circle cx="580.4" cy="365.9" r="3.20" fill="#3783bb"/><circle cx="582.4" cy="366.5" r="3.20" fill="#3783bb"/><circle cx="584.4" cy="367.2" r="3.20" fill="#3783bb"/><circle cx="586.4" cy="367.8" r="3.20" fill="#3783bb"/><circle cx="588.4" cy="368.4" r="3.20" fill="#3e8cbf"/><circle cx="590.4" cy="369.0" r="3.20" fill="#529dc8"/><circle cx="592.4" cy="369.7" r="3.20" fill="#5fa5cd"/><circle cx="594.4" cy="370.3" r="3.20" fill="#5fa5cd"/><circle cx="596.3" cy="370.9" r="3.20" fill="#5fa5cd"/><circle cx="598.3" cy="371.6" r="3.20" fill="#5fa5cd"/><circle cx="600.3" cy="372.2" r="3.20" fill="#5fa5cd"/><circle cx="602.3" cy="372.8" r="3.20" fill="#5fa5cd"/><circle cx="604.3" cy="373.4" r="3.20" fill="#5fa5cd"/><circle cx="606.3" cy="374.1" r="3.20" fill="#62a7ce"/><circle cx="608.3" cy="374.7" r="3.20" fill="#62a7ce"/><circle cx="610.3" cy="375.3" r="3.20" fill="#62a7ce"/><circle cx="612.3" cy="376.0" r="3.20" fill="#75b2d4"/><circle cx="614.3" cy="376.6" r="3.20" fill="#93c6de"/><circle cx="616.3" cy="377.2" r="3.20" fill="#9dcbe1"/><circle cx="618.3" cy="377.8" r="3.20" fill="#a0cce2"/><circle cx="620.3" cy="378.5" r="3.20" fill="#a0cce2"/><circle cx="622.3" cy="379.1" r="3.20" fill="#a0cce2"/><circle cx="624.3" cy="379.7" r="3.20" fill="#a0cce2"/><circle cx="626.3" cy="380.4" r="3.20" fill="#a0cce2"/><circle cx="628.2" cy="381.0" r="3.20" fill="#a0cce2"/><circle cx="630.2" cy="381.6" r="3.20" fill="#a0cce2"/><circle cx="632.2" cy="382.2" r="3.20" fill="#a0cce2"/><circle cx="634.2" cy="382.9" r="3.20" fill="#a0cce2"/><circle cx="636.2" cy="383.5" r="3.20" fill="#a0cce2"/><circle cx="638.2" cy="384.1" r="3.20" fill="#a0cce2"/><circle cx="640.2" cy="384.8" r="3.20" fill="#a0cce2"/><circle cx="642.2" cy="385.4" r="3.20" fill="#a2cde3"/><circle cx="644.2" cy="386.0" r="3.20" fill="#a2cde3"/><circle cx="646.2" cy="386.6" r="3.20" fill="#a2cde3"/><circle cx="648.2" cy="387.3" r="3.20" fill="#b6d7e8"/><circle cx="650.2" cy="387.9" r="3.20" fill="#d5e7f1"/><circle cx="652.2" cy="388.5" r="3.20" fill="#e4eef4"/><circle cx="654.2" cy="389.2" r="3.20" fill="#e4eef4"/><circle cx="656.2" cy="389.8" r="3.20" fill="#cce2ef"/><circle cx="658.2" cy="390.4" r="3.20" fill="#a5cee3"/><circle cx="660.1" cy="391.0" r="3.20" fill="#8ac0db"/><circle cx="662.1" cy="391.7" r="3.20" fill="#7bb6d6"/><circle cx="664.1" cy="392.3" r="3.20" fill="#6bacd1"/><circle cx="666.1" cy="392.9" r="3.20" fill="#68abd0"/><circle cx="668.1" cy="393.6" r="3.20" fill="#65a9cf"/><circle cx="670.1" cy="394.2" r="3.20" fill="#62a7ce"/><circle cx="672.1" cy="394.8" r="3.20" fill="#5fa5cd"/><circle cx="674.1" cy="395.4" r="3.20" fill="#5ca3cb"/><circle cx="676.1" cy="396.1" r="3.20" fill="#529dc8"/><circle cx="678.1" cy="396.7" r="3.20" fill="#4c99c6"/><circle cx="680.1" cy="397.3" r="3.20" fill="#4695c4"/><circle cx="682.1" cy="398.0" r="3.20" fill="#4695c4"/><circle cx="684.1" cy="398.6" r="3.20" fill="#4393c3"/><circle cx="686.1" cy="399.2" r="3.20" fill="#4393c3"/><circle cx="688.1" cy="399.8" r="3.20" fill="#4393c3"/><circle cx="690.1" cy="400.5" r="3.20" fill="#8ac0db"/><circle cx="692.0" cy="401.1" r="3.20" fill="#aed3e6"/><circle cx="694.0" cy="401.7" r="3.20" fill="#b1d5e7"/><circle cx="696.0" cy="402.4" r="3.20" fill="#9dcbe1"/><circle cx="698.0" cy="403.0" r="3.20" fill="#65a9cf"/><circle cx="700.0" cy="403.6" r="3.20" fill="#4393c3"/><circle cx="702.0" cy="404.2" r="3.20" fill="#4393c3"/><circle cx="704.0" cy="404.9" r="3.20" fill="#4393c3"/><circle cx="706.0" cy="405.5" r="3.20" fill="#4393c3"/><circle cx="708.0" cy="406.1" r="3.20" fill="#4393c3"/><circle cx="710.0" cy="406.7" r="3.20" fill="#4393c3"/><circle cx="712.0" cy="407.4" r="3.20" fill="#4393c3"/><circle cx="714.0" cy="408.0" r="3.20" fill="#4393c3"/><circle cx="716.0" cy="408.6" r="3.20" fill="#4393c3"/><circle cx="718.0" cy="409.3" r="3.20" fill="#4695c4"/><circle cx="720.0" cy="409.9" r="3.20" fill="#4695c4"/><circle cx="722.0" cy="410.5" r="3.20" fill="#4695c4"/><circle cx="723.9" cy="411.1" r="3.20" fill="#4695c4"/><circle cx="725.9" cy="411.8" r="3.20" fill="#4695c4"/><circle cx="727.9" cy="412.4" r="3.20" fill="#4695c4"/><circle cx="729.9" cy="413.0" r="3.20" fill="#4695c4"/><circle cx="731.9" cy="413.7" r="3.20" fill="#4695c4"/><circle cx="733.9" cy="414.3" r="3.20" fill="#4393c3"/><circle cx="735.9" cy="414.9" r="3.20" fill="#4393c3"/><circle cx="737.9" cy="415.5" r="3.20" fill="#4393c3"/><circle cx="739.9" cy="416.2" r="3.20" fill="#4393c3"/><circle cx="741.9" cy="416.8" r="3.20" fill="#4393c3"/><circle cx="743.9" cy="417.4" r="3.20" fill="#4393c3"/><circle cx="745.9" cy="418.1" r="3.20" fill="#4291c2"/><circle cx="747.9" cy="418.7" r="3.20" fill="#4291c2"/><circle cx="749.9" cy="419.3" r="3.20" fill="#4291c2"/><circle cx="751.9" cy="419.9" r="3.20" fill="#4291c2"/><circle cx="753.9" cy="420.6" r="3.20" fill="#4291c2"/><circle cx="755.8" cy="421.2" r="3.20" fill="#4291c2"/><circle cx="757.8" cy="421.8" r="3.20" fill="#408fc1"/><circle cx="759.8" cy="422.5" r="3.20" fill="#408fc1"/><circle cx="761.8" cy="423.1" r="3.20" fill="#408fc1"/><circle cx="763.8" cy="423.7" r="3.20" fill="#408fc1"/><circle cx="765.8" cy="424.3" r="3.20" fill="#408fc1"/><circle cx="767.8" cy="425.0" r="3.20" fill="#3f8ec0"/><circle cx="769.8" cy="425.6" r="3.20" fill="#3f8ec0"/></g>
<path d="M224.5 540.5V60.5M373.5 540.5V60.5M522.5 540.5V60.5M671.5 540.5V60.5M820.5 540.5V60.5M150.5 140.5H894.5M150.5 220.5H894.5M150.5 300.5H894.5M150.5 380.5H894.5M150.5 460.5H894.5" stroke="#000" stroke-width="0.6944" stroke-dasharray="1.3889 4.1667" fill="none"/>
<g fill="#000"><polygon points="675.1,397 678.9,397 681.1,499.4 676.9,499.4"/><polygon points="677.08,396.92 689.21,380.63 701.30,363.95 700.90,363.65 687.59,379.37 674.72,395.08"/><polygon points="676.96,395.44 668.35,394.93 653.25,392.63 642.08,390.96 641.92,391.64 652.75,394.97 667.65,398.67 676.04,400.96"/><polygon points="675.71,398.15 678.01,418.16 682.00,436.35 682.60,436.25 680.39,417.84 678.69,397.85"/><circle cx="676.4" cy="397.4" r="2.6"/></g>
<path d="M224.5 540.5v-5.5556M224.5 60.5v5.5556M373.5 540.5v-5.5556M373.5 60.5v5.5556M522.5 540.5v-5.5556M522.5 60.5v5.5556M671.5 540.5v-5.5556M671.5 60.5v5.5556M820.5 540.5v-5.5556M820.5 60.5v5.5556M150.5 140.5h5.5556M894.5 140.5h-5.5556M150.5 220.5h5.5556M894.5 220.5h-5.5556M150.5 300.5h5.5556M894.5 300.5h-5.5556M150.5 380.5h5.5556M894.5 380.5h-5.5556M150.5 460.5h5.5556M894.5 460.5h-5.5556" stroke="#000" stroke-width="0.6944" fill="none"/>
<rect x="150.5" y="60.5" width="744" height="480" fill="none" stroke="#000" stroke-width="1.3889"/>
<rect x="940.5" y="60.5" width="25" height="480" fill="url(#cbg)"/>
<path d="M965.5 60.5h-5.5556M965.5 108.5h-5.5556M965.5 156.5h-5.5556M965.5 204.5h-5.5556M965.5 252.5h-5.5556M965.5 300.5h-5.5556M965.5 348.5h-5.5556M965.5 396.5h-5.5556M965.5 444.5h-5.5556M965.5 492.5h-5.5556M965.5 540.5h-5.5556" stroke="#000" stroke-width="0.6944" fill="none"/>
<rect x="940.5" y="60.5" width="25" height="480" fill="none" stroke="#000" stroke-width="1.3889"/>
<text transform="translate(393.31 52.51) scale(1.1328 1)" font-size="19.813">2017/05/18 12:00:00 UTC</text>
<text transform="translate(409.04 586.62) scale(1.0911 1)" font-size="22.686">distance to WEC / m</text>
<text transform="translate(86.85 379.79) rotate(-90) scale(1.1784 1)" font-size="21.985">rel. height / m</text>
<text transform="translate(1042.89 439.75) rotate(-90) scale(1.1464 1)" font-size="22.011">radial wind speed / m s</text>
<text transform="translate(202.75 560.10) scale(1.0447 1)" font-size="18.382">−600</text>
<text transform="translate(351.75 560.14) scale(1.0378 1)" font-size="18.504">−400</text>
<text transform="translate(500.75 560.28) scale(1.0480 1)" font-size="18.410">−200</text>
<text transform="translate(666.31 560.17) scale(0.9411 1)" font-size="18.538">0</text>
<text transform="translate(804.34 560.30) scale(0.9541 1)" font-size="18.524">200</text>
<text transform="translate(100.75 545.27) scale(1.0538 1)" font-size="18.303">−100</text>
<text transform="translate(134.31 465.17) scale(0.9411 1)" font-size="18.538">0</text>
<text transform="translate(114.62 385.25) scale(0.9639 1)" font-size="18.363">100</text>
<text transform="translate(113.34 305.30) scale(0.9541 1)" font-size="18.524">200</text>
<text transform="translate(113.73 224.97) scale(0.9556 1)" font-size="18.487">300</text>
<text transform="translate(114.39 145.21) scale(0.9554 1)" font-size="18.663">400</text>
<text transform="translate(113.34 65.17) scale(0.9624 1)" font-size="18.501">500</text>
<text transform="translate(970.90 545.89) scale(1.1567 1)" font-size="22.751">−10</text>
<text transform="translate(971.09 497.88) scale(1.1749 1)" font-size="22.585">−8</text>
<text transform="translate(971.09 449.96) scale(1.1736 1)" font-size="22.669">−6</text>
<text transform="translate(971.12 402.05) scale(1.1273 1)" font-size="23.451">−4</text>
<text transform="translate(970.92 354.00) scale(1.1360 1)" font-size="22.954">−2</text>
<text transform="translate(971.56 305.75) scale(1.0415 1)" font-size="22.480">0</text>
<text transform="translate(971.54 258.00) scale(0.9725 1)" font-size="23.033">2</text>
<text transform="translate(970.73 210.04) scale(1.0001 1)" font-size="23.135">4</text>
<text transform="translate(971.20 162.06) scale(1.0823 1)" font-size="22.499">6</text>
<text transform="translate(971.43 113.86) scale(1.0487 1)" font-size="22.569">8</text>
<text transform="translate(970.63 65.89) scale(1.0288 1)" font-size="22.779">10</text>
<text transform="translate(1034.26 180.47) rotate(-90) scale(1.0892 1)" font-size="15.156">−1</text>
</svg></body></html>
